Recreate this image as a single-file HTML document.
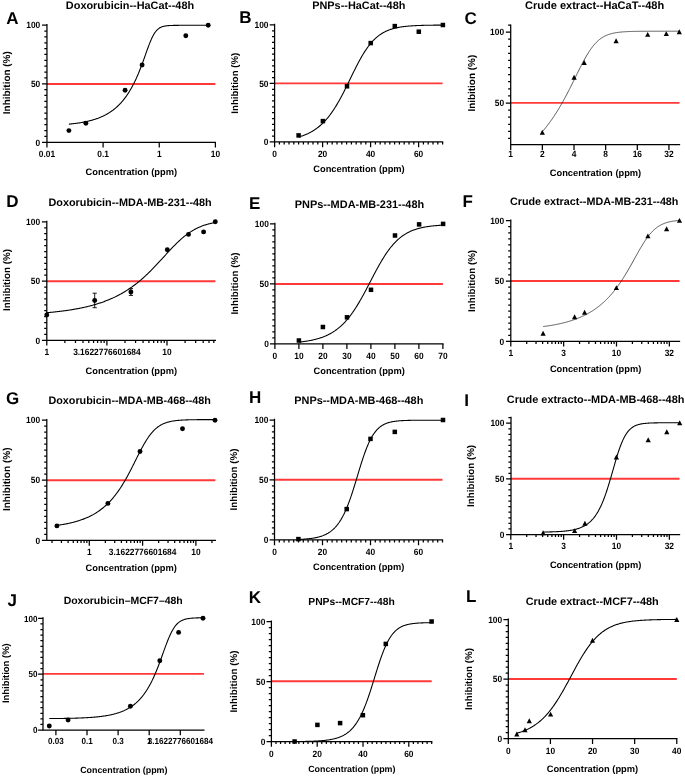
<!DOCTYPE html>
<html><head><meta charset="utf-8"><style>
html,body{margin:0;padding:0;background:#fff;overflow:hidden;}
svg{display:block;will-change:transform;}
text{font-family:"Liberation Sans", sans-serif;font-weight:bold;fill:#000;text-rendering:geometricPrecision;}
.tk{font-size:8.4px;}
.ti{font-size:10.8px;}
.le{font-size:17px;}
.xl{font-size:9.3px;}
</style></head><body>
<svg width="685" height="776" viewBox="0 0 685 776">
<rect width="685" height="776" fill="#fff"/>
<g><line x1="46.95" y1="84.00" x2="215.4" y2="84.00" stroke="#ff3838" stroke-width="1.9"/><path d="M68.90,124.14 L69.48,124.09 L70.07,124.03 L70.65,123.97 L71.23,123.91 L71.81,123.85 L72.40,123.78 L72.98,123.72 L73.56,123.65 L74.15,123.58 L74.73,123.51 L75.31,123.43 L75.89,123.36 L76.48,123.28 L77.06,123.20 L77.64,123.11 L78.23,123.03 L78.81,122.94 L79.39,122.85 L79.97,122.76 L80.56,122.67 L81.14,122.57 L81.72,122.47 L82.31,122.37 L82.89,122.26 L83.47,122.15 L84.05,122.04 L84.64,121.93 L85.22,121.81 L85.80,121.69 L86.39,121.56 L86.97,121.44 L87.55,121.30 L88.13,121.17 L88.72,121.03 L89.30,120.89 L89.88,120.74 L90.47,120.59 L91.05,120.44 L91.63,120.28 L92.21,120.11 L92.80,119.94 L93.38,119.77 L93.96,119.59 L94.55,119.41 L95.13,119.22 L95.71,119.03 L96.29,118.83 L96.88,118.63 L97.46,118.42 L98.04,118.21 L98.63,117.98 L99.21,117.76 L99.79,117.52 L100.37,117.28 L100.96,117.04 L101.54,116.78 L102.12,116.52 L102.71,116.26 L103.29,115.98 L103.87,115.70 L104.45,115.41 L105.04,115.11 L105.62,114.80 L106.20,114.49 L106.78,114.16 L107.37,113.83 L107.95,113.49 L108.53,113.14 L109.12,112.77 L109.70,112.40 L110.28,112.02 L110.86,111.63 L111.45,111.22 L112.03,110.81 L112.61,110.38 L113.20,109.95 L113.78,109.50 L114.36,109.03 L114.94,108.56 L115.53,108.07 L116.11,107.57 L116.69,107.05 L117.28,106.52 L117.86,105.98 L118.44,105.42 L119.02,104.84 L119.61,104.25 L120.19,103.64 L120.77,103.02 L121.36,102.37 L121.94,101.72 L122.52,101.04 L123.10,100.34 L123.69,99.62 L124.27,98.89 L124.85,98.13 L125.44,97.36 L126.02,96.56 L126.60,95.74 L127.18,94.90 L127.77,94.03 L128.35,93.14 L128.93,92.23 L129.52,91.29 L130.10,90.32 L130.68,89.33 L131.26,88.32 L131.85,87.27 L132.43,86.20 L133.01,85.10 L133.60,83.97 L134.18,82.82 L134.76,81.63 L135.34,80.41 L135.93,79.16 L136.51,77.88 L137.09,76.57 L137.68,75.23 L138.26,73.86 L138.84,72.45 L139.42,71.02 L140.01,69.56 L140.59,68.06 L141.17,66.54 L141.76,65.00 L142.34,63.43 L142.92,61.84 L143.50,60.23 L144.09,58.61 L144.67,56.97 L145.25,55.33 L145.84,53.68 L146.42,52.04 L147.00,50.41 L147.58,48.80 L148.17,47.21 L148.75,45.65 L149.33,44.13 L149.92,42.66 L150.50,41.23 L151.08,39.87 L151.66,38.57 L152.25,37.34 L152.83,36.18 L153.41,35.09 L154.00,34.08 L154.58,33.15 L155.16,32.30 L155.74,31.52 L156.33,30.81 L156.91,30.17 L157.49,29.59 L158.08,29.07 L158.66,28.61 L159.24,28.20 L159.82,27.84 L160.41,27.52 L160.99,27.24 L161.57,26.99 L162.16,26.77 L162.74,26.58 L163.32,26.41 L163.90,26.27 L164.49,26.14 L165.07,26.03 L165.65,25.94 L166.24,25.85 L166.82,25.78 L167.40,25.72 L167.98,25.66 L168.57,25.62 L169.15,25.57 L169.73,25.54 L170.32,25.51 L170.90,25.48 L171.48,25.46 L172.06,25.44 L172.65,25.42 L173.23,25.41 L173.81,25.39 L174.39,25.38 L174.98,25.37 L175.56,25.36 L176.14,25.36 L176.73,25.35 L177.31,25.35 L177.89,25.34 L178.47,25.34 L179.06,25.33 L179.64,25.33 L180.22,25.33 L180.81,25.33 L181.39,25.32 L181.97,25.32 L182.55,25.32 L183.14,25.32 L183.72,25.32 L184.30,25.32 L184.89,25.32 L185.47,25.32 L186.05,25.32 L186.63,25.31 L187.22,25.31 L187.80,25.31 L188.38,25.31 L188.97,25.31 L189.55,25.31 L190.13,25.31 L190.71,25.31 L191.30,25.31 L191.88,25.31 L192.46,25.31 L193.05,25.31 L193.63,25.31 L194.21,25.31 L194.79,25.31 L195.38,25.31 L195.96,25.31 L196.54,25.31 L197.13,25.31 L197.71,25.31 L198.29,25.31 L198.87,25.31 L199.46,25.31 L200.04,25.31 L200.62,25.31 L201.21,25.31 L201.79,25.31 L202.37,25.31 L202.95,25.31 L203.54,25.31 L204.12,25.31 L204.70,25.31 L205.29,25.31 L205.87,25.31 L206.45,25.31 L207.03,25.31 L207.62,25.31 L208.20,25.31" fill="none" stroke="#000" stroke-width="1.08"/><path d="M46.95,24.6 L46.95,142.3 L215.4,142.3" fill="none" stroke="#000" stroke-width="1.25" stroke-linejoin="miter" stroke-linecap="square"/><path d="M46.95,136.45 L44.35,136.45 M46.95,130.59 L44.35,130.59 M46.95,124.74 L44.35,124.74 M46.95,118.88 L44.35,118.88 M46.95,113.03 L44.35,113.03 M46.95,107.17 L44.35,107.17 M46.95,101.32 L44.35,101.32 M46.95,95.46 L44.35,95.46 M46.95,89.61 L44.35,89.61 M46.95,77.89 L44.35,77.89 M46.95,72.04 L44.35,72.04 M46.95,66.19 L44.35,66.19 M46.95,60.33 L44.35,60.33 M46.95,54.48 L44.35,54.48 M46.95,48.62 L44.35,48.62 M46.95,42.77 L44.35,42.77 M46.95,36.91 L44.35,36.91 M46.95,31.06 L44.35,31.06 M46.95,142.30 L42.050000000000004,142.30 M46.95,83.75 L42.050000000000004,83.75 M46.95,25.20 L42.050000000000004,25.20 M46.95,142.3 L46.95,147.60000000000002 M103.10,142.3 L103.10,147.60000000000002 M159.25,142.3 L159.25,147.60000000000002 M215.40,142.3 L215.40,147.60000000000002" stroke="#000" stroke-width="1.25" fill="none"/><text transform="translate(40.25,145.58) scale(1,1.09)" text-anchor="end" class="tk" style="font-size:8.4px">0</text><text transform="translate(40.25,87.03) scale(1,1.09)" text-anchor="end" class="tk" style="font-size:8.4px">50</text><text transform="translate(40.25,28.48) scale(1,1.09)" text-anchor="end" class="tk" style="font-size:8.4px">100</text><text transform="translate(46.95,157.4) scale(1,1.09)" text-anchor="middle" class="tk" style="font-size:8.4px">0.01</text><text transform="translate(103.10,157.4) scale(1,1.09)" text-anchor="middle" class="tk" style="font-size:8.4px">0.1</text><text transform="translate(159.25,157.4) scale(1,1.09)" text-anchor="middle" class="tk" style="font-size:8.4px">1</text><text transform="translate(215.40,157.4) scale(1,1.09)" text-anchor="middle" class="tk" style="font-size:8.4px">10</text><circle cx="68.9" cy="130.6" r="2.45"/><circle cx="85.9" cy="123.3" r="2.45"/><circle cx="125.1" cy="90.3" r="2.45"/><circle cx="142.1" cy="65" r="2.45"/><circle cx="185.8" cy="35.8" r="2.45"/><circle cx="208.2" cy="25.3" r="2.45"/><text x="130.0" y="9.2" text-anchor="middle" class="ti" style="font-size:10.9px">Doxorubicin--HaCat--48h</text><text x="6.2" y="23.5" class="le">A</text><text x="131.3" y="175.0" text-anchor="middle" class="xl" style="font-size:9.3px">Concentration (ppm)</text><text transform="translate(9.9,82.7) rotate(-90)" text-anchor="middle" class="xl" style="font-size:9.95px">Inhibition (%)</text></g><g><line x1="274.6" y1="83.40" x2="442.6" y2="83.40" stroke="#ff3838" stroke-width="1.9"/><path d="M298.60,137.04 L299.20,136.86 L299.81,136.68 L300.41,136.49 L301.01,136.30 L301.61,136.10 L302.22,135.89 L302.82,135.68 L303.42,135.46 L304.02,135.23 L304.63,134.99 L305.23,134.75 L305.83,134.50 L306.43,134.24 L307.04,133.97 L307.64,133.70 L308.24,133.41 L308.84,133.12 L309.45,132.82 L310.05,132.51 L310.65,132.19 L311.25,131.85 L311.86,131.51 L312.46,131.16 L313.06,130.80 L313.66,130.42 L314.27,130.04 L314.87,129.64 L315.47,129.23 L316.07,128.81 L316.68,128.37 L317.28,127.92 L317.88,127.46 L318.48,126.99 L319.09,126.50 L319.69,126.00 L320.29,125.48 L320.89,124.95 L321.50,124.40 L322.10,123.84 L322.70,123.26 L323.30,122.66 L323.91,122.05 L324.51,121.43 L325.11,120.78 L325.71,120.12 L326.32,119.44 L326.92,118.75 L327.52,118.03 L328.12,117.30 L328.73,116.55 L329.33,115.78 L329.93,115.00 L330.53,114.19 L331.14,113.37 L331.74,112.53 L332.34,111.67 L332.94,110.79 L333.55,109.89 L334.15,108.97 L334.75,108.03 L335.35,107.08 L335.96,106.11 L336.56,105.12 L337.16,104.11 L337.76,103.08 L338.37,102.04 L338.97,100.98 L339.57,99.90 L340.17,98.81 L340.78,97.70 L341.38,96.58 L341.98,95.44 L342.58,94.30 L343.19,93.13 L343.79,91.96 L344.39,90.77 L344.99,89.58 L345.60,88.37 L346.20,87.16 L346.80,85.94 L347.40,84.71 L348.01,83.48 L348.61,82.25 L349.21,81.01 L349.81,79.77 L350.42,78.53 L351.02,77.29 L351.62,76.05 L352.22,74.81 L352.83,73.58 L353.43,72.35 L354.03,71.13 L354.63,69.92 L355.24,68.71 L355.84,67.52 L356.44,66.33 L357.04,65.16 L357.65,64.00 L358.25,62.86 L358.85,61.73 L359.45,60.61 L360.06,59.51 L360.66,58.43 L361.26,57.37 L361.86,56.33 L362.47,55.30 L363.07,54.29 L363.67,53.31 L364.27,52.35 L364.88,51.40 L365.48,50.48 L366.08,49.58 L366.68,48.70 L367.29,47.85 L367.89,47.01 L368.49,46.20 L369.09,45.41 L369.70,44.64 L370.30,43.90 L370.90,43.17 L371.50,42.47 L372.11,41.79 L372.71,41.13 L373.31,40.49 L373.91,39.88 L374.52,39.28 L375.12,38.70 L375.72,38.15 L376.32,37.61 L376.93,37.09 L377.53,36.59 L378.13,36.11 L378.73,35.64 L379.34,35.19 L379.94,34.76 L380.54,34.35 L381.14,33.95 L381.75,33.57 L382.35,33.20 L382.95,32.84 L383.55,32.50 L384.16,32.18 L384.76,31.87 L385.36,31.56 L385.96,31.28 L386.57,31.00 L387.17,30.74 L387.77,30.48 L388.37,30.24 L388.98,30.01 L389.58,29.78 L390.18,29.57 L390.78,29.36 L391.39,29.17 L391.99,28.98 L392.59,28.80 L393.19,28.63 L393.80,28.47 L394.40,28.31 L395.00,28.16 L395.60,28.02 L396.21,27.88 L396.81,27.75 L397.41,27.62 L398.01,27.50 L398.62,27.39 L399.22,27.28 L399.82,27.17 L400.42,27.08 L401.03,26.98 L401.63,26.89 L402.23,26.80 L402.83,26.72 L403.44,26.64 L404.04,26.57 L404.64,26.49 L405.24,26.43 L405.85,26.36 L406.45,26.30 L407.05,26.24 L407.65,26.18 L408.26,26.13 L408.86,26.07 L409.46,26.02 L410.06,25.98 L410.67,25.93 L411.27,25.89 L411.87,25.85 L412.47,25.81 L413.08,25.77 L413.68,25.74 L414.28,25.70 L414.88,25.67 L415.49,25.64 L416.09,25.61 L416.69,25.58 L417.29,25.56 L417.90,25.53 L418.50,25.51 L419.10,25.48 L419.70,25.46 L420.31,25.44 L420.91,25.42 L421.51,25.40 L422.11,25.38 L422.72,25.37 L423.32,25.35 L423.92,25.33 L424.52,25.32 L425.13,25.30 L425.73,25.29 L426.33,25.28 L426.93,25.26 L427.54,25.25 L428.14,25.24 L428.74,25.23 L429.34,25.22 L429.95,25.21 L430.55,25.20 L431.15,25.19 L431.75,25.18 L432.36,25.18 L432.96,25.17 L433.56,25.16 L434.16,25.15 L434.77,25.15 L435.37,25.14 L435.97,25.14 L436.57,25.13 L437.18,25.12 L437.78,25.12 L438.38,25.11 L438.98,25.11 L439.59,25.10 L440.19,25.10 L440.79,25.10 L441.39,25.09 L442.00,25.09 L442.60,25.08" fill="none" stroke="#000" stroke-width="1.08"/><path d="M274.6,24.4 L274.6,141.9 L442.6,141.9" fill="none" stroke="#000" stroke-width="1.25" stroke-linejoin="miter" stroke-linecap="square"/><path d="M274.6,136.05 L272.0,136.05 M274.6,130.20 L272.0,130.20 M274.6,124.35 L272.0,124.35 M274.6,118.50 L272.0,118.50 M274.6,112.65 L272.0,112.65 M274.6,106.80 L272.0,106.80 M274.6,100.95 L272.0,100.95 M274.6,95.10 L272.0,95.10 M274.6,89.25 L272.0,89.25 M274.6,77.55 L272.0,77.55 M274.6,71.70 L272.0,71.70 M274.6,65.85 L272.0,65.85 M274.6,60.00 L272.0,60.00 M274.6,54.15 L272.0,54.15 M274.6,48.30 L272.0,48.30 M274.6,42.45 L272.0,42.45 M274.6,36.60 L272.0,36.60 M274.6,30.75 L272.0,30.75 M274.6,141.90 L269.70000000000005,141.90 M274.6,83.40 L269.70000000000005,83.40 M274.6,24.90 L269.70000000000005,24.90 M279.40,141.9 L279.40,144.5 M284.20,141.9 L284.20,144.5 M289.00,141.9 L289.00,144.5 M293.80,141.9 L293.80,144.5 M298.60,141.9 L298.60,144.5 M303.40,141.9 L303.40,144.5 M308.20,141.9 L308.20,144.5 M313.00,141.9 L313.00,144.5 M317.80,141.9 L317.80,144.5 M327.40,141.9 L327.40,144.5 M332.20,141.9 L332.20,144.5 M337.00,141.9 L337.00,144.5 M341.80,141.9 L341.80,144.5 M346.60,141.9 L346.60,144.5 M351.40,141.9 L351.40,144.5 M356.20,141.9 L356.20,144.5 M361.00,141.9 L361.00,144.5 M365.80,141.9 L365.80,144.5 M375.40,141.9 L375.40,144.5 M380.20,141.9 L380.20,144.5 M385.00,141.9 L385.00,144.5 M389.80,141.9 L389.80,144.5 M394.60,141.9 L394.60,144.5 M399.40,141.9 L399.40,144.5 M404.20,141.9 L404.20,144.5 M409.00,141.9 L409.00,144.5 M413.80,141.9 L413.80,144.5 M423.40,141.9 L423.40,144.5 M428.20,141.9 L428.20,144.5 M433.00,141.9 L433.00,144.5 M437.80,141.9 L437.80,144.5 M442.60,141.9 L442.60,144.5 M274.60,141.9 L274.60,147.20000000000002 M322.60,141.9 L322.60,147.20000000000002 M370.60,141.9 L370.60,147.20000000000002 M418.60,141.9 L418.60,147.20000000000002" stroke="#000" stroke-width="1.25" fill="none"/><text transform="translate(268.50,145.18) scale(1,1.09)" text-anchor="end" class="tk" style="font-size:8.4px">0</text><text transform="translate(268.50,86.68) scale(1,1.09)" text-anchor="end" class="tk" style="font-size:8.4px">50</text><text transform="translate(268.50,28.18) scale(1,1.09)" text-anchor="end" class="tk" style="font-size:8.4px">100</text><text transform="translate(274.60,156.7) scale(1,1.09)" text-anchor="middle" class="tk" style="font-size:8.4px">0</text><text transform="translate(322.60,156.7) scale(1,1.09)" text-anchor="middle" class="tk" style="font-size:8.4px">20</text><text transform="translate(370.60,156.7) scale(1,1.09)" text-anchor="middle" class="tk" style="font-size:8.4px">40</text><text transform="translate(418.60,156.7) scale(1,1.09)" text-anchor="middle" class="tk" style="font-size:8.4px">60</text><rect x="296.35" y="133.15" width="4.5" height="4.5"/><rect x="320.65" y="118.85" width="4.5" height="4.5"/><rect x="344.75" y="84.05" width="4.5" height="4.5"/><rect x="368.45" y="40.85" width="4.5" height="4.5"/><rect x="392.55" y="23.85" width="4.5" height="4.5"/><rect x="416.55" y="29.45" width="4.5" height="4.5"/><rect x="440.65" y="22.75" width="4.5" height="4.5"/><text x="358.8" y="9.3" text-anchor="middle" class="ti" style="font-size:10.9px">PNPs--HaCat--48h</text><text x="239.3" y="23.4" class="le">B</text><text x="359.0" y="171.6" text-anchor="middle" class="xl" style="font-size:9.3px">Concentration (ppm)</text><text transform="translate(237.7,83.2) rotate(-90)" text-anchor="middle" class="xl" style="font-size:9.65px">Inhibition (%)</text></g><g><line x1="510.7" y1="102.90" x2="679.5" y2="102.90" stroke="#ff3838" stroke-width="1.9"/><path d="M542.30,131.73 L542.87,131.06 L543.45,130.38 L544.02,129.70 L544.59,129.01 L545.17,128.30 L545.74,127.59 L546.31,126.87 L546.89,126.14 L547.46,125.40 L548.03,124.65 L548.61,123.89 L549.18,123.12 L549.75,122.34 L550.33,121.55 L550.90,120.75 L551.47,119.93 L552.04,119.11 L552.62,118.28 L553.19,117.44 L553.76,116.59 L554.34,115.72 L554.91,114.85 L555.48,113.97 L556.06,113.07 L556.63,112.17 L557.20,111.25 L557.78,110.32 L558.35,109.38 L558.92,108.43 L559.50,107.48 L560.07,106.51 L560.64,105.52 L561.22,104.53 L561.79,103.53 L562.36,102.52 L562.94,101.50 L563.51,100.46 L564.08,99.42 L564.66,98.37 L565.23,97.31 L565.80,96.24 L566.38,95.16 L566.95,94.07 L567.52,92.97 L568.09,91.86 L568.67,90.75 L569.24,89.63 L569.81,88.50 L570.39,87.36 L570.96,86.22 L571.53,85.08 L572.11,83.93 L572.68,82.77 L573.25,81.61 L573.83,80.45 L574.40,79.29 L574.97,78.12 L575.55,76.96 L576.12,75.79 L576.69,74.63 L577.27,73.46 L577.84,72.30 L578.41,71.15 L578.99,70.00 L579.56,68.85 L580.13,67.72 L580.71,66.59 L581.28,65.47 L581.85,64.36 L582.43,63.26 L583.00,62.17 L583.57,61.10 L584.15,60.04 L584.72,59.00 L585.29,57.97 L585.86,56.96 L586.44,55.97 L587.01,55.00 L587.58,54.05 L588.16,53.12 L588.73,52.21 L589.30,51.32 L589.88,50.46 L590.45,49.62 L591.02,48.80 L591.60,48.01 L592.17,47.24 L592.74,46.49 L593.32,45.77 L593.89,45.08 L594.46,44.40 L595.04,43.76 L595.61,43.13 L596.18,42.53 L596.76,41.96 L597.33,41.41 L597.90,40.88 L598.48,40.37 L599.05,39.89 L599.62,39.42 L600.20,38.98 L600.77,38.56 L601.34,38.15 L601.92,37.77 L602.49,37.41 L603.06,37.06 L603.63,36.73 L604.21,36.42 L604.78,36.12 L605.35,35.84 L605.93,35.57 L606.50,35.32 L607.07,35.08 L607.65,34.86 L608.22,34.64 L608.79,34.44 L609.37,34.25 L609.94,34.07 L610.51,33.90 L611.09,33.74 L611.66,33.59 L612.23,33.44 L612.81,33.31 L613.38,33.18 L613.95,33.06 L614.53,32.95 L615.10,32.84 L615.67,32.74 L616.25,32.65 L616.82,32.56 L617.39,32.48 L617.97,32.40 L618.54,32.33 L619.11,32.26 L619.68,32.19 L620.26,32.13 L620.83,32.08 L621.40,32.02 L621.98,31.97 L622.55,31.92 L623.12,31.88 L623.70,31.84 L624.27,31.80 L624.84,31.76 L625.42,31.73 L625.99,31.69 L626.56,31.66 L627.14,31.64 L627.71,31.61 L628.28,31.58 L628.86,31.56 L629.43,31.54 L630.00,31.52 L630.58,31.50 L631.15,31.48 L631.72,31.46 L632.30,31.45 L632.87,31.43 L633.44,31.42 L634.02,31.40 L634.59,31.39 L635.16,31.38 L635.74,31.37 L636.31,31.36 L636.88,31.35 L637.45,31.34 L638.03,31.33 L638.60,31.32 L639.17,31.32 L639.75,31.31 L640.32,31.30 L640.89,31.30 L641.47,31.29 L642.04,31.28 L642.61,31.28 L643.19,31.27 L643.76,31.27 L644.33,31.27 L644.91,31.26 L645.48,31.26 L646.05,31.25 L646.63,31.25 L647.20,31.25 L647.77,31.25 L648.35,31.24 L648.92,31.24 L649.49,31.24 L650.07,31.24 L650.64,31.23 L651.21,31.23 L651.79,31.23 L652.36,31.23 L652.93,31.23 L653.51,31.23 L654.08,31.22 L654.65,31.22 L655.22,31.22 L655.80,31.22 L656.37,31.22 L656.94,31.22 L657.52,31.22 L658.09,31.22 L658.66,31.22 L659.24,31.21 L659.81,31.21 L660.38,31.21 L660.96,31.21 L661.53,31.21 L662.10,31.21 L662.68,31.21 L663.25,31.21 L663.82,31.21 L664.40,31.21 L664.97,31.21 L665.54,31.21 L666.12,31.21 L666.69,31.21 L667.26,31.21 L667.84,31.21 L668.41,31.21 L668.98,31.21 L669.56,31.21 L670.13,31.21 L670.70,31.21 L671.27,31.21 L671.85,31.21 L672.42,31.21 L672.99,31.21 L673.57,31.21 L674.14,31.21 L674.71,31.20 L675.29,31.20 L675.86,31.20 L676.43,31.20 L677.01,31.20 L677.58,31.20 L678.15,31.20 L678.73,31.20 L679.30,31.20" fill="none" stroke="#222" stroke-width="0.75"/><path d="M510.7,25.064999999999998 L510.7,144.7 L679.5,144.7" fill="none" stroke="#000" stroke-width="1.25" stroke-linejoin="miter" stroke-linecap="square"/><path d="M510.7,138.43 L508.09999999999997,138.43 M510.7,131.34 L508.09999999999997,131.34 M510.7,124.25 L508.09999999999997,124.25 M510.7,117.17 L508.09999999999997,117.17 M510.7,110.09 L508.09999999999997,110.09 M510.7,95.92 L508.09999999999997,95.92 M510.7,88.83 L508.09999999999997,88.83 M510.7,81.74 L508.09999999999997,81.74 M510.7,74.66 L508.09999999999997,74.66 M510.7,67.57 L508.09999999999997,67.57 M510.7,60.49 L508.09999999999997,60.49 M510.7,53.41 L508.09999999999997,53.41 M510.7,46.32 L508.09999999999997,46.32 M510.7,39.24 L508.09999999999997,39.24 M510.7,25.07 L508.09999999999997,25.07 M510.7,103.00 L505.8,103.00 M510.7,32.15 L505.8,32.15 M510.70,144.7 L510.70,150.0 M542.35,144.7 L542.35,150.0 M574.00,144.7 L574.00,150.0 M605.65,144.7 L605.65,150.0 M637.30,144.7 L637.30,150.0 M668.95,144.7 L668.95,150.0" stroke="#000" stroke-width="1.25" fill="none"/><text transform="translate(504.10,106.28) scale(1,1.09)" text-anchor="end" class="tk" style="font-size:8.4px">50</text><text transform="translate(504.10,35.43) scale(1,1.09)" text-anchor="end" class="tk" style="font-size:8.4px">100</text><text transform="translate(510.70,157.1) scale(1,1.09)" text-anchor="middle" class="tk" style="font-size:8.4px">1</text><text transform="translate(542.35,157.1) scale(1,1.09)" text-anchor="middle" class="tk" style="font-size:8.4px">2</text><text transform="translate(574.00,157.1) scale(1,1.09)" text-anchor="middle" class="tk" style="font-size:8.4px">4</text><text transform="translate(605.65,157.1) scale(1,1.09)" text-anchor="middle" class="tk" style="font-size:8.4px">8</text><text transform="translate(637.30,157.1) scale(1,1.09)" text-anchor="middle" class="tk" style="font-size:8.4px">16</text><text transform="translate(668.95,157.1) scale(1,1.09)" text-anchor="middle" class="tk" style="font-size:8.4px">32</text><path d="M542.3,129.75 L544.9,134.65 L539.6999999999999,134.65 Z"/><path d="M574.1,74.75 L576.7,79.65 L571.5,79.65 Z"/><path d="M584.2,60.05 L586.8000000000001,64.95 L581.6,64.95 Z"/><path d="M616.1,38.35 L618.7,43.25 L613.5,43.25 Z"/><path d="M647.7,31.950000000000003 L650.3000000000001,36.85 L645.1,36.85 Z"/><path d="M666.3,31.15 L668.9,36.05 L663.6999999999999,36.05 Z"/><path d="M679.3,29.35 L681.9,34.25 L676.6999999999999,34.25 Z"/><text x="594.6" y="9.3" text-anchor="middle" class="ti" style="font-size:11.05px">Crude extract--HaCaT--48h</text><text x="464.6" y="23.6" class="le">C</text><text x="595.5" y="175.8" text-anchor="middle" class="xl" style="font-size:9.3px">Concentration (ppm)</text><text transform="translate(474.5,83.2) rotate(-90)" text-anchor="middle" class="xl" style="font-size:9.95px">Inibition (%)</text></g><g><line x1="46.8" y1="281.20" x2="215.4" y2="281.20" stroke="#ff3838" stroke-width="1.9"/><path d="M46.80,312.68 L47.51,312.62 L48.21,312.56 L48.92,312.50 L49.62,312.43 L50.33,312.37 L51.03,312.30 L51.74,312.23 L52.44,312.17 L53.15,312.10 L53.85,312.02 L54.56,311.95 L55.26,311.88 L55.97,311.80 L56.67,311.72 L57.38,311.65 L58.08,311.57 L58.79,311.49 L59.49,311.40 L60.20,311.32 L60.90,311.23 L61.61,311.15 L62.31,311.06 L63.02,310.97 L63.72,310.87 L64.43,310.78 L65.13,310.68 L65.84,310.59 L66.54,310.49 L67.25,310.39 L67.95,310.28 L68.66,310.18 L69.36,310.07 L70.07,309.96 L70.77,309.85 L71.48,309.74 L72.18,309.63 L72.89,309.51 L73.59,309.39 L74.30,309.27 L75.00,309.15 L75.71,309.02 L76.41,308.90 L77.12,308.77 L77.82,308.63 L78.53,308.50 L79.23,308.36 L79.94,308.22 L80.64,308.08 L81.35,307.94 L82.05,307.79 L82.76,307.64 L83.46,307.49 L84.17,307.33 L84.87,307.17 L85.58,307.01 L86.28,306.85 L86.99,306.68 L87.69,306.51 L88.40,306.34 L89.10,306.16 L89.81,305.98 L90.51,305.80 L91.22,305.62 L91.92,305.43 L92.63,305.24 L93.33,305.04 L94.04,304.84 L94.74,304.64 L95.45,304.43 L96.15,304.22 L96.86,304.01 L97.56,303.79 L98.27,303.57 L98.97,303.34 L99.68,303.11 L100.38,302.87 L101.09,302.64 L101.79,302.39 L102.50,302.15 L103.20,301.90 L103.91,301.64 L104.61,301.38 L105.32,301.11 L106.02,300.85 L106.73,300.57 L107.43,300.29 L108.14,300.01 L108.84,299.72 L109.55,299.42 L110.25,299.12 L110.96,298.82 L111.66,298.51 L112.37,298.19 L113.07,297.87 L113.78,297.55 L114.48,297.21 L115.19,296.88 L115.89,296.53 L116.60,296.18 L117.30,295.83 L118.01,295.47 L118.71,295.10 L119.42,294.72 L120.12,294.34 L120.83,293.96 L121.53,293.56 L122.24,293.16 L122.94,292.75 L123.65,292.34 L124.35,291.92 L125.06,291.49 L125.76,291.06 L126.47,290.62 L127.17,290.17 L127.88,289.71 L128.58,289.25 L129.29,288.78 L129.99,288.30 L130.70,287.81 L131.40,287.32 L132.11,286.82 L132.81,286.31 L133.52,285.79 L134.22,285.27 L134.93,284.74 L135.63,284.20 L136.34,283.65 L137.04,283.09 L137.75,282.53 L138.45,281.96 L139.16,281.38 L139.86,280.79 L140.57,280.20 L141.27,279.59 L141.98,278.98 L142.68,278.36 L143.39,277.74 L144.09,277.10 L144.80,276.46 L145.50,275.81 L146.21,275.15 L146.91,274.49 L147.62,273.81 L148.32,273.13 L149.03,272.45 L149.73,271.75 L150.44,271.05 L151.14,270.35 L151.85,269.63 L152.55,268.91 L153.26,268.19 L153.96,267.46 L154.67,266.72 L155.37,265.98 L156.08,265.24 L156.78,264.49 L157.49,263.73 L158.19,262.97 L158.90,262.21 L159.60,261.45 L160.31,260.68 L161.01,259.91 L161.72,259.14 L162.42,258.37 L163.13,257.60 L163.83,256.82 L164.54,256.05 L165.24,255.28 L165.95,254.50 L166.65,253.73 L167.36,252.97 L168.06,252.20 L168.77,251.44 L169.47,250.68 L170.18,249.92 L170.88,249.17 L171.59,248.43 L172.29,247.69 L173.00,246.96 L173.70,246.23 L174.41,245.51 L175.11,244.80 L175.82,244.10 L176.52,243.41 L177.23,242.72 L177.93,242.05 L178.64,241.38 L179.34,240.73 L180.05,240.08 L180.75,239.45 L181.46,238.82 L182.16,238.21 L182.87,237.61 L183.57,237.03 L184.28,236.45 L184.98,235.89 L185.69,235.34 L186.39,234.80 L187.10,234.27 L187.80,233.76 L188.51,233.26 L189.21,232.77 L189.92,232.30 L190.62,231.84 L191.33,231.39 L192.03,230.95 L192.74,230.53 L193.44,230.12 L194.15,229.72 L194.85,229.33 L195.56,228.96 L196.26,228.60 L196.97,228.25 L197.67,227.91 L198.38,227.58 L199.08,227.26 L199.79,226.96 L200.49,226.66 L201.20,226.38 L201.90,226.10 L202.61,225.84 L203.31,225.58 L204.02,225.34 L204.72,225.10 L205.43,224.88 L206.13,224.66 L206.84,224.45 L207.54,224.24 L208.25,224.05 L208.95,223.86 L209.66,223.68 L210.36,223.51 L211.07,223.35 L211.77,223.19 L212.48,223.04 L213.18,222.89 L213.89,222.75 L214.59,222.62 L215.30,222.49" fill="none" stroke="#000" stroke-width="1.08"/><path d="M94.7,293.2 L94.7,307.7 M92.60000000000001,293.2 L96.8,293.2 M92.60000000000001,307.7 L96.8,307.7" stroke="#000" stroke-width="0.9" fill="none"/><path d="M130.9,288.6 L130.9,295.4 M128.8,288.6 L133.0,288.6 M128.8,295.4 L133.0,295.4" stroke="#000" stroke-width="0.9" fill="none"/><path d="M46.8,221.4 L46.8,340.3 L215.4,340.3" fill="none" stroke="#000" stroke-width="1.25" stroke-linejoin="miter" stroke-linecap="square"/><path d="M46.8,334.38 L44.199999999999996,334.38 M46.8,328.46 L44.199999999999996,328.46 M46.8,322.54 L44.199999999999996,322.54 M46.8,316.62 L44.199999999999996,316.62 M46.8,310.70 L44.199999999999996,310.70 M46.8,304.78 L44.199999999999996,304.78 M46.8,298.86 L44.199999999999996,298.86 M46.8,292.94 L44.199999999999996,292.94 M46.8,287.02 L44.199999999999996,287.02 M46.8,275.18 L44.199999999999996,275.18 M46.8,269.26 L44.199999999999996,269.26 M46.8,263.34 L44.199999999999996,263.34 M46.8,257.42 L44.199999999999996,257.42 M46.8,251.50 L44.199999999999996,251.50 M46.8,245.58 L44.199999999999996,245.58 M46.8,239.66 L44.199999999999996,239.66 M46.8,233.74 L44.199999999999996,233.74 M46.8,227.82 L44.199999999999996,227.82 M46.8,340.30 L41.9,340.30 M46.8,281.10 L41.9,281.10 M46.8,221.90 L41.9,221.90 M64.89,340.3 L64.89,342.90000000000003 M75.47,340.3 L75.47,342.90000000000003 M82.98,340.3 L82.98,342.90000000000003 M88.81,340.3 L88.81,342.90000000000003 M93.57,340.3 L93.57,342.90000000000003 M97.59,340.3 L97.59,342.90000000000003 M101.08,340.3 L101.08,342.90000000000003 M104.15,340.3 L104.15,342.90000000000003 M124.99,340.3 L124.99,342.90000000000003 M135.57,340.3 L135.57,342.90000000000003 M143.08,340.3 L143.08,342.90000000000003 M148.91,340.3 L148.91,342.90000000000003 M153.67,340.3 L153.67,342.90000000000003 M157.69,340.3 L157.69,342.90000000000003 M161.18,340.3 L161.18,342.90000000000003 M164.25,340.3 L164.25,342.90000000000003 M185.09,340.3 L185.09,342.90000000000003 M195.67,340.3 L195.67,342.90000000000003 M203.18,340.3 L203.18,342.90000000000003 M209.01,340.3 L209.01,342.90000000000003 M213.77,340.3 L213.77,342.90000000000003 M46.80,340.3 L46.80,345.6 M106.90,340.3 L106.90,345.6 M167.00,340.3 L167.00,345.6" stroke="#000" stroke-width="1.25" fill="none"/><text transform="translate(40.10,343.58) scale(1,1.09)" text-anchor="end" class="tk" style="font-size:8.4px">0</text><text transform="translate(40.10,284.38) scale(1,1.09)" text-anchor="end" class="tk" style="font-size:8.4px">50</text><text transform="translate(40.10,225.18) scale(1,1.09)" text-anchor="end" class="tk" style="font-size:8.4px">100</text><text transform="translate(46.80,355.20000000000005) scale(1,1.09)" text-anchor="middle" class="tk" style="font-size:8.4px">1</text><text transform="translate(106.90,355.20000000000005) scale(1,1.09)" text-anchor="middle" class="tk" style="font-size:8.4px">3.1622776601684</text><text transform="translate(167.00,355.20000000000005) scale(1,1.09)" text-anchor="middle" class="tk" style="font-size:8.4px">10</text><circle cx="46.8" cy="314.9" r="2.45"/><circle cx="94.7" cy="300.5" r="2.45"/><circle cx="130.9" cy="292" r="2.45"/><circle cx="167.3" cy="249.7" r="2.45"/><circle cx="188.5" cy="234.4" r="2.45"/><circle cx="203.6" cy="231.9" r="2.45"/><circle cx="215.3" cy="221.7" r="2.45"/><text x="130.1" y="206.3" text-anchor="middle" class="ti" style="font-size:10.85px">Doxorubicin--MDA-MB-231--48h</text><text x="6.3" y="206.6" class="le">D</text><text x="131.3" y="373.8" text-anchor="middle" class="xl" style="font-size:9.3px">Concentration (ppm)</text><text transform="translate(9.7,280.0) rotate(-90)" text-anchor="middle" class="xl" style="font-size:9.8px">Inhibition (%)</text></g><g><line x1="274.9" y1="284.00" x2="442.9" y2="284.00" stroke="#ff3838" stroke-width="1.9"/><path d="M298.90,342.11 L299.50,342.05 L300.11,341.99 L300.71,341.92 L301.31,341.85 L301.92,341.78 L302.52,341.70 L303.12,341.63 L303.73,341.55 L304.33,341.46 L304.93,341.38 L305.54,341.29 L306.14,341.20 L306.74,341.11 L307.35,341.01 L307.95,340.91 L308.55,340.81 L309.16,340.70 L309.76,340.59 L310.36,340.47 L310.97,340.36 L311.57,340.23 L312.17,340.11 L312.78,339.98 L313.38,339.84 L313.98,339.70 L314.59,339.56 L315.19,339.41 L315.79,339.26 L316.40,339.10 L317.00,338.94 L317.60,338.77 L318.21,338.60 L318.81,338.42 L319.41,338.23 L320.02,338.04 L320.62,337.84 L321.22,337.63 L321.83,337.42 L322.43,337.21 L323.03,336.98 L323.64,336.75 L324.24,336.51 L324.84,336.26 L325.45,336.01 L326.05,335.74 L326.65,335.47 L327.26,335.19 L327.86,334.90 L328.46,334.61 L329.07,334.30 L329.67,333.98 L330.27,333.66 L330.88,333.32 L331.48,332.98 L332.08,332.62 L332.69,332.25 L333.29,331.88 L333.89,331.49 L334.50,331.09 L335.10,330.67 L335.70,330.25 L336.31,329.81 L336.91,329.36 L337.51,328.90 L338.12,328.42 L338.72,327.93 L339.32,327.43 L339.93,326.92 L340.53,326.39 L341.13,325.84 L341.74,325.28 L342.34,324.71 L342.94,324.12 L343.55,323.51 L344.15,322.89 L344.75,322.26 L345.36,321.61 L345.96,320.94 L346.56,320.26 L347.17,319.56 L347.77,318.84 L348.37,318.11 L348.98,317.36 L349.58,316.59 L350.18,315.81 L350.79,315.01 L351.39,314.20 L351.99,313.36 L352.60,312.52 L353.20,311.65 L353.80,310.77 L354.41,309.87 L355.01,308.96 L355.61,308.03 L356.22,307.08 L356.82,306.12 L357.42,305.14 L358.03,304.15 L358.63,303.15 L359.23,302.13 L359.84,301.09 L360.44,300.05 L361.04,298.99 L361.65,297.92 L362.25,296.84 L362.85,295.75 L363.46,294.64 L364.06,293.53 L364.66,292.41 L365.27,291.28 L365.87,290.15 L366.47,289.01 L367.08,287.86 L367.68,286.71 L368.28,285.55 L368.89,284.39 L369.49,283.23 L370.09,282.07 L370.70,280.90 L371.30,279.74 L371.91,278.58 L372.51,277.42 L373.11,276.27 L373.72,275.11 L374.32,273.97 L374.92,272.83 L375.53,271.69 L376.13,270.57 L376.73,269.45 L377.34,268.34 L377.94,267.24 L378.54,266.16 L379.15,265.08 L379.75,264.02 L380.35,262.96 L380.96,261.93 L381.56,260.90 L382.16,259.89 L382.77,258.90 L383.37,257.92 L383.97,256.96 L384.58,256.01 L385.18,255.08 L385.78,254.17 L386.39,253.28 L386.99,252.40 L387.59,251.54 L388.20,250.70 L388.80,249.87 L389.40,249.07 L390.01,248.28 L390.61,247.51 L391.21,246.76 L391.82,246.03 L392.42,245.32 L393.02,244.62 L393.63,243.94 L394.23,243.28 L394.83,242.64 L395.44,242.02 L396.04,241.41 L396.64,240.82 L397.25,240.25 L397.85,239.69 L398.45,239.15 L399.06,238.63 L399.66,238.12 L400.26,237.63 L400.87,237.15 L401.47,236.69 L402.07,236.24 L402.68,235.81 L403.28,235.39 L403.88,234.98 L404.49,234.59 L405.09,234.21 L405.69,233.84 L406.30,233.49 L406.90,233.15 L407.50,232.82 L408.11,232.50 L408.71,232.19 L409.31,231.89 L409.92,231.61 L410.52,231.33 L411.12,231.07 L411.73,230.81 L412.33,230.56 L412.93,230.32 L413.54,230.09 L414.14,229.87 L414.74,229.66 L415.35,229.45 L415.95,229.25 L416.55,229.06 L417.16,228.88 L417.76,228.70 L418.36,228.53 L418.97,228.37 L419.57,228.21 L420.17,228.06 L420.78,227.92 L421.38,227.78 L421.98,227.64 L422.59,227.51 L423.19,227.39 L423.79,227.27 L424.40,227.15 L425.00,227.04 L425.60,226.94 L426.21,226.83 L426.81,226.74 L427.41,226.64 L428.02,226.55 L428.62,226.46 L429.22,226.38 L429.83,226.30 L430.43,226.22 L431.03,226.15 L431.64,226.08 L432.24,226.01 L432.84,225.94 L433.45,225.88 L434.05,225.82 L434.65,225.76 L435.26,225.70 L435.86,225.65 L436.46,225.60 L437.07,225.55 L437.67,225.50 L438.27,225.46 L438.88,225.41 L439.48,225.37 L440.08,225.33 L440.69,225.29 L441.29,225.26 L441.89,225.22 L442.50,225.19 L443.10,225.15" fill="none" stroke="#000" stroke-width="1.08"/><path d="M274.9,223.3 L274.9,343.8 L442.9,343.8" fill="none" stroke="#000" stroke-width="1.25" stroke-linejoin="miter" stroke-linecap="square"/><path d="M274.9,337.81 L272.29999999999995,337.81 M274.9,331.81 L272.29999999999995,331.81 M274.9,325.81 L272.29999999999995,325.81 M274.9,319.82 L272.29999999999995,319.82 M274.9,313.82 L272.29999999999995,313.82 M274.9,307.83 L272.29999999999995,307.83 M274.9,301.84 L272.29999999999995,301.84 M274.9,295.84 L272.29999999999995,295.84 M274.9,289.85 L272.29999999999995,289.85 M274.9,277.86 L272.29999999999995,277.86 M274.9,271.86 L272.29999999999995,271.86 M274.9,265.87 L272.29999999999995,265.87 M274.9,259.87 L272.29999999999995,259.87 M274.9,253.88 L272.29999999999995,253.88 M274.9,247.88 L272.29999999999995,247.88 M274.9,241.88 L272.29999999999995,241.88 M274.9,235.89 L272.29999999999995,235.89 M274.9,229.90 L272.29999999999995,229.90 M274.9,343.80 L270.0,343.80 M274.9,283.85 L270.0,283.85 M274.9,223.90 L270.0,223.90 M274.90,343.8 L274.90,349.1 M298.90,343.8 L298.90,349.1 M322.90,343.8 L322.90,349.1 M346.90,343.8 L346.90,349.1 M370.90,343.8 L370.90,349.1 M394.90,343.8 L394.90,349.1 M418.90,343.8 L418.90,349.1 M442.90,343.8 L442.90,349.1" stroke="#000" stroke-width="1.25" fill="none"/><text transform="translate(268.80,347.08) scale(1,1.09)" text-anchor="end" class="tk" style="font-size:8.4px">0</text><text transform="translate(268.80,287.13) scale(1,1.09)" text-anchor="end" class="tk" style="font-size:8.4px">50</text><text transform="translate(268.80,227.18) scale(1,1.09)" text-anchor="end" class="tk" style="font-size:8.4px">100</text><text transform="translate(274.90,358.5) scale(1,1.09)" text-anchor="middle" class="tk" style="font-size:8.4px">0</text><text transform="translate(298.90,358.5) scale(1,1.09)" text-anchor="middle" class="tk" style="font-size:8.4px">10</text><text transform="translate(322.90,358.5) scale(1,1.09)" text-anchor="middle" class="tk" style="font-size:8.4px">20</text><text transform="translate(346.90,358.5) scale(1,1.09)" text-anchor="middle" class="tk" style="font-size:8.4px">30</text><text transform="translate(370.90,358.5) scale(1,1.09)" text-anchor="middle" class="tk" style="font-size:8.4px">40</text><text transform="translate(394.90,358.5) scale(1,1.09)" text-anchor="middle" class="tk" style="font-size:8.4px">50</text><text transform="translate(418.90,358.5) scale(1,1.09)" text-anchor="middle" class="tk" style="font-size:8.4px">60</text><text transform="translate(442.90,358.5) scale(1,1.09)" text-anchor="middle" class="tk" style="font-size:8.4px">70</text><rect x="296.65" y="338.25" width="4.5" height="4.5"/><rect x="320.65" y="324.75" width="4.5" height="4.5"/><rect x="344.75" y="315.05" width="4.5" height="4.5"/><rect x="368.75" y="287.55" width="4.5" height="4.5"/><rect x="392.75" y="233.25" width="4.5" height="4.5"/><rect x="416.85" y="222.15" width="4.5" height="4.5"/><rect x="440.85" y="221.65" width="4.5" height="4.5"/><text x="359.5" y="207.9" text-anchor="middle" class="ti" style="font-size:10.95px">PNPs--MDA-MB-231--48h</text><text x="249.0" y="208.9" class="le">E</text><text x="359.2" y="373.9" text-anchor="middle" class="xl" style="font-size:9.3px">Concentration (ppm)</text><text transform="translate(237.7,283.6) rotate(-90)" text-anchor="middle" class="xl" style="font-size:9.8px">Inhibition (%)</text></g><g><line x1="510.8" y1="281.00" x2="679.5" y2="281.00" stroke="#ff3838" stroke-width="1.9"/><path d="M543.10,326.58 L543.67,326.51 L544.24,326.43 L544.81,326.36 L545.38,326.28 L545.95,326.20 L546.52,326.12 L547.09,326.03 L547.67,325.95 L548.24,325.86 L548.81,325.77 L549.38,325.68 L549.95,325.59 L550.52,325.50 L551.09,325.41 L551.66,325.31 L552.23,325.21 L552.80,325.11 L553.37,325.01 L553.94,324.90 L554.51,324.80 L555.08,324.69 L555.66,324.58 L556.23,324.47 L556.80,324.35 L557.37,324.24 L557.94,324.12 L558.51,324.00 L559.08,323.88 L559.65,323.75 L560.22,323.62 L560.79,323.50 L561.36,323.36 L561.93,323.23 L562.50,323.09 L563.07,322.95 L563.65,322.81 L564.22,322.66 L564.79,322.52 L565.36,322.37 L565.93,322.21 L566.50,322.06 L567.07,321.90 L567.64,321.74 L568.21,321.57 L568.78,321.40 L569.35,321.23 L569.92,321.06 L570.49,320.88 L571.06,320.70 L571.64,320.51 L572.21,320.33 L572.78,320.13 L573.35,319.94 L573.92,319.74 L574.49,319.54 L575.06,319.33 L575.63,319.12 L576.20,318.91 L576.77,318.69 L577.34,318.47 L577.91,318.24 L578.48,318.01 L579.05,317.78 L579.63,317.54 L580.20,317.30 L580.77,317.05 L581.34,316.79 L581.91,316.54 L582.48,316.28 L583.05,316.01 L583.62,315.74 L584.19,315.46 L584.76,315.18 L585.33,314.89 L585.90,314.60 L586.47,314.30 L587.04,314.00 L587.62,313.69 L588.19,313.37 L588.76,313.05 L589.33,312.72 L589.90,312.39 L590.47,312.05 L591.04,311.71 L591.61,311.35 L592.18,311.00 L592.75,310.63 L593.32,310.26 L593.89,309.88 L594.46,309.50 L595.03,309.10 L595.61,308.70 L596.18,308.30 L596.75,307.88 L597.32,307.46 L597.89,307.03 L598.46,306.59 L599.03,306.15 L599.60,305.69 L600.17,305.23 L600.74,304.76 L601.31,304.28 L601.88,303.79 L602.45,303.30 L603.02,302.79 L603.60,302.28 L604.17,301.75 L604.74,301.22 L605.31,300.68 L605.88,300.12 L606.45,299.56 L607.02,298.99 L607.59,298.41 L608.16,297.81 L608.73,297.21 L609.30,296.60 L609.87,295.97 L610.44,295.34 L611.01,294.70 L611.59,294.04 L612.16,293.37 L612.73,292.69 L613.30,292.00 L613.87,291.30 L614.44,290.59 L615.01,289.87 L615.58,289.13 L616.15,288.38 L616.72,287.62 L617.29,286.85 L617.86,286.07 L618.43,285.28 L619.00,284.47 L619.58,283.65 L620.15,282.82 L620.72,281.98 L621.29,281.13 L621.86,280.27 L622.43,279.39 L623.00,278.50 L623.57,277.60 L624.14,276.70 L624.71,275.78 L625.28,274.85 L625.85,273.91 L626.42,272.96 L626.99,272.00 L627.57,271.03 L628.14,270.05 L628.71,269.07 L629.28,268.08 L629.85,267.08 L630.42,266.07 L630.99,265.06 L631.56,264.04 L632.13,263.02 L632.70,262.00 L633.27,260.97 L633.84,259.94 L634.41,258.91 L634.98,257.88 L635.56,256.85 L636.13,255.82 L636.70,254.79 L637.27,253.77 L637.84,252.76 L638.41,251.74 L638.98,250.74 L639.55,249.74 L640.12,248.76 L640.69,247.78 L641.26,246.82 L641.83,245.86 L642.40,244.92 L642.97,244.00 L643.55,243.09 L644.12,242.19 L644.69,241.32 L645.26,240.46 L645.83,239.61 L646.40,238.79 L646.97,237.99 L647.54,237.21 L648.11,236.45 L648.68,235.71 L649.25,234.99 L649.82,234.29 L650.39,233.62 L650.96,232.97 L651.54,232.34 L652.11,231.73 L652.68,231.14 L653.25,230.58 L653.82,230.04 L654.39,229.52 L654.96,229.01 L655.53,228.54 L656.10,228.08 L656.67,227.64 L657.24,227.22 L657.81,226.81 L658.38,226.43 L658.95,226.07 L659.53,225.72 L660.10,225.39 L660.67,225.07 L661.24,224.77 L661.81,224.49 L662.38,224.22 L662.95,223.96 L663.52,223.72 L664.09,223.49 L664.66,223.27 L665.23,223.07 L665.80,222.87 L666.37,222.69 L666.94,222.51 L667.52,222.35 L668.09,222.19 L668.66,222.04 L669.23,221.91 L669.80,221.77 L670.37,221.65 L670.94,221.53 L671.51,221.42 L672.08,221.32 L672.65,221.22 L673.22,221.13 L673.79,221.04 L674.36,220.96 L674.93,220.89 L675.51,220.81 L676.08,220.75 L676.65,220.68 L677.22,220.62 L677.79,220.57 L678.36,220.51 L678.93,220.46 L679.50,220.42" fill="none" stroke="#222" stroke-width="0.75"/><path d="M510.8,220.2 L510.8,341.3 L679.5,341.3" fill="none" stroke="#000" stroke-width="1.25" stroke-linejoin="miter" stroke-linecap="square"/><path d="M510.8,335.27 L508.2,335.27 M510.8,329.24 L508.2,329.24 M510.8,323.21 L508.2,323.21 M510.8,317.18 L508.2,317.18 M510.8,311.15 L508.2,311.15 M510.8,305.12 L508.2,305.12 M510.8,299.09 L508.2,299.09 M510.8,293.06 L508.2,293.06 M510.8,287.03 L508.2,287.03 M510.8,274.97 L508.2,274.97 M510.8,268.94 L508.2,268.94 M510.8,262.91 L508.2,262.91 M510.8,256.88 L508.2,256.88 M510.8,250.85 L508.2,250.85 M510.8,244.82 L508.2,244.82 M510.8,238.79 L508.2,238.79 M510.8,232.76 L508.2,232.76 M510.8,226.73 L508.2,226.73 M510.8,341.30 L505.90000000000003,341.30 M510.8,281.00 L505.90000000000003,281.00 M510.8,220.70 L505.90000000000003,220.70 M526.71,341.3 L526.71,343.90000000000003 M536.02,341.3 L536.02,343.90000000000003 M542.62,341.3 L542.62,343.90000000000003 M547.74,341.3 L547.74,343.90000000000003 M551.93,341.3 L551.93,343.90000000000003 M555.46,341.3 L555.46,343.90000000000003 M558.53,341.3 L558.53,343.90000000000003 M561.23,341.3 L561.23,343.90000000000003 M579.56,341.3 L579.56,343.90000000000003 M588.87,341.3 L588.87,343.90000000000003 M595.47,341.3 L595.47,343.90000000000003 M600.59,341.3 L600.59,343.90000000000003 M604.78,341.3 L604.78,343.90000000000003 M608.31,341.3 L608.31,343.90000000000003 M611.38,341.3 L611.38,343.90000000000003 M614.08,341.3 L614.08,343.90000000000003 M632.41,341.3 L632.41,343.90000000000003 M641.72,341.3 L641.72,343.90000000000003 M648.32,341.3 L648.32,343.90000000000003 M653.44,341.3 L653.44,343.90000000000003 M657.63,341.3 L657.63,343.90000000000003 M661.16,341.3 L661.16,343.90000000000003 M664.23,341.3 L664.23,343.90000000000003 M666.93,341.3 L666.93,343.90000000000003 M510.80,341.3 L510.80,346.6 M563.65,341.3 L563.65,346.6 M616.50,341.3 L616.50,346.6 M669.35,341.3 L669.35,346.6" stroke="#000" stroke-width="1.25" fill="none"/><text transform="translate(504.20,344.58) scale(1,1.09)" text-anchor="end" class="tk" style="font-size:8.4px">0</text><text transform="translate(504.20,284.28) scale(1,1.09)" text-anchor="end" class="tk" style="font-size:8.4px">50</text><text transform="translate(504.20,223.98) scale(1,1.09)" text-anchor="end" class="tk" style="font-size:8.4px">100</text><text transform="translate(510.80,356.3) scale(1,1.09)" text-anchor="middle" class="tk" style="font-size:8.4px">1</text><text transform="translate(563.65,356.3) scale(1,1.09)" text-anchor="middle" class="tk" style="font-size:8.4px">3</text><text transform="translate(616.50,356.3) scale(1,1.09)" text-anchor="middle" class="tk" style="font-size:8.4px">10</text><text transform="translate(669.35,356.3) scale(1,1.09)" text-anchor="middle" class="tk" style="font-size:8.4px">32</text><path d="M543.1,330.85 L545.7,335.75 L540.5,335.75 Z"/><path d="M574.6,314.35 L577.2,319.25 L572.0,319.25 Z"/><path d="M584.6,309.85 L587.2,314.75 L582.0,314.75 Z"/><path d="M616.4,285.15 L619.0,290.04999999999995 L613.8,290.04999999999995 Z"/><path d="M647.9,233.45 L650.5,238.35 L645.3,238.35 Z"/><path d="M666.6,226.35 L669.2,231.25 L664.0,231.25 Z"/><path d="M679.5,217.95 L682.1,222.85 L676.9,222.85 Z"/><text x="594.2" y="205.0" text-anchor="middle" class="ti" style="font-size:10.75px">Crude extract--MDA-MB-231--48h</text><text x="462.6" y="207.0" class="le">F</text><text x="595.6" y="372.0" text-anchor="middle" class="xl" style="font-size:9.3px">Concentration (ppm)</text><text transform="translate(474.8,280.9) rotate(-90)" text-anchor="middle" class="xl" style="font-size:9.8px">Inhibition (%)</text></g><g><line x1="46.8" y1="480.30" x2="215.4" y2="480.30" stroke="#ff3838" stroke-width="1.9"/><path d="M56.90,525.36 L57.56,525.27 L58.22,525.18 L58.88,525.08 L59.55,524.99 L60.21,524.89 L60.87,524.79 L61.53,524.68 L62.19,524.57 L62.85,524.46 L63.52,524.35 L64.18,524.23 L64.84,524.11 L65.50,523.99 L66.16,523.87 L66.82,523.74 L67.48,523.60 L68.15,523.47 L68.81,523.33 L69.47,523.18 L70.13,523.04 L70.79,522.89 L71.45,522.73 L72.11,522.57 L72.78,522.41 L73.44,522.24 L74.10,522.07 L74.76,521.89 L75.42,521.71 L76.08,521.52 L76.75,521.33 L77.41,521.14 L78.07,520.94 L78.73,520.73 L79.39,520.52 L80.05,520.30 L80.71,520.08 L81.38,519.85 L82.04,519.61 L82.70,519.37 L83.36,519.12 L84.02,518.87 L84.68,518.61 L85.34,518.34 L86.01,518.06 L86.67,517.78 L87.33,517.49 L87.99,517.19 L88.65,516.89 L89.31,516.57 L89.98,516.25 L90.64,515.92 L91.30,515.58 L91.96,515.23 L92.62,514.88 L93.28,514.51 L93.94,514.13 L94.61,513.75 L95.27,513.35 L95.93,512.94 L96.59,512.53 L97.25,512.10 L97.91,511.66 L98.57,511.21 L99.24,510.75 L99.90,510.27 L100.56,509.79 L101.22,509.29 L101.88,508.78 L102.54,508.25 L103.21,507.71 L103.87,507.16 L104.53,506.59 L105.19,506.01 L105.85,505.42 L106.51,504.81 L107.17,504.18 L107.84,503.54 L108.50,502.88 L109.16,502.21 L109.82,501.52 L110.48,500.81 L111.14,500.08 L111.81,499.34 L112.47,498.58 L113.13,497.80 L113.79,497.00 L114.45,496.19 L115.11,495.35 L115.77,494.50 L116.44,493.62 L117.10,492.73 L117.76,491.82 L118.42,490.88 L119.08,489.93 L119.74,488.96 L120.40,487.96 L121.07,486.95 L121.73,485.91 L122.39,484.86 L123.05,483.78 L123.71,482.69 L124.37,481.57 L125.04,480.44 L125.70,479.28 L126.36,478.11 L127.02,476.92 L127.68,475.72 L128.34,474.49 L129.00,473.26 L129.67,472.00 L130.33,470.74 L130.99,469.46 L131.65,468.17 L132.31,466.87 L132.97,465.56 L133.63,464.24 L134.30,462.92 L134.96,461.60 L135.62,460.28 L136.28,458.95 L136.94,457.63 L137.60,456.31 L138.27,455.00 L138.93,453.70 L139.59,452.40 L140.25,451.13 L140.91,449.86 L141.57,448.61 L142.23,447.39 L142.90,446.18 L143.56,445.00 L144.22,443.84 L144.88,442.70 L145.54,441.60 L146.20,440.52 L146.86,439.48 L147.53,438.47 L148.19,437.49 L148.85,436.54 L149.51,435.62 L150.17,434.74 L150.83,433.90 L151.50,433.09 L152.16,432.31 L152.82,431.57 L153.48,430.86 L154.14,430.19 L154.80,429.54 L155.46,428.93 L156.13,428.35 L156.79,427.80 L157.45,427.28 L158.11,426.79 L158.77,426.33 L159.43,425.89 L160.09,425.47 L160.76,425.09 L161.42,424.72 L162.08,424.38 L162.74,424.05 L163.40,423.75 L164.06,423.47 L164.73,423.20 L165.39,422.95 L166.05,422.72 L166.71,422.50 L167.37,422.30 L168.03,422.11 L168.69,421.93 L169.36,421.77 L170.02,421.61 L170.68,421.47 L171.34,421.34 L172.00,421.21 L172.66,421.09 L173.33,420.99 L173.99,420.89 L174.65,420.79 L175.31,420.70 L175.97,420.62 L176.63,420.55 L177.29,420.48 L177.96,420.41 L178.62,420.35 L179.28,420.30 L179.94,420.24 L180.60,420.19 L181.26,420.15 L181.92,420.11 L182.59,420.07 L183.25,420.03 L183.91,420.00 L184.57,419.97 L185.23,419.94 L185.89,419.91 L186.56,419.89 L187.22,419.86 L187.88,419.84 L188.54,419.82 L189.20,419.80 L189.86,419.79 L190.52,419.77 L191.19,419.76 L191.85,419.74 L192.51,419.73 L193.17,419.72 L193.83,419.71 L194.49,419.70 L195.15,419.69 L195.82,419.68 L196.48,419.67 L197.14,419.66 L197.80,419.66 L198.46,419.65 L199.12,419.64 L199.79,419.64 L200.45,419.63 L201.11,419.63 L201.77,419.62 L202.43,419.62 L203.09,419.62 L203.75,419.61 L204.42,419.61 L205.08,419.61 L205.74,419.60 L206.40,419.60 L207.06,419.60 L207.72,419.60 L208.38,419.59 L209.05,419.59 L209.71,419.59 L210.37,419.59 L211.03,419.59 L211.69,419.59 L212.35,419.58 L213.02,419.58 L213.68,419.58 L214.34,419.58 L215.00,419.58" fill="none" stroke="#000" stroke-width="1.08"/><path d="M46.8,419.5 L46.8,540.4 L215.4,540.4" fill="none" stroke="#000" stroke-width="1.25" stroke-linejoin="miter" stroke-linecap="square"/><path d="M46.8,534.38 L44.199999999999996,534.38 M46.8,528.36 L44.199999999999996,528.36 M46.8,522.34 L44.199999999999996,522.34 M46.8,516.32 L44.199999999999996,516.32 M46.8,510.30 L44.199999999999996,510.30 M46.8,504.28 L44.199999999999996,504.28 M46.8,498.26 L44.199999999999996,498.26 M46.8,492.24 L44.199999999999996,492.24 M46.8,486.22 L44.199999999999996,486.22 M46.8,474.18 L44.199999999999996,474.18 M46.8,468.16 L44.199999999999996,468.16 M46.8,462.14 L44.199999999999996,462.14 M46.8,456.12 L44.199999999999996,456.12 M46.8,450.10 L44.199999999999996,450.10 M46.8,444.08 L44.199999999999996,444.08 M46.8,438.06 L44.199999999999996,438.06 M46.8,432.04 L44.199999999999996,432.04 M46.8,426.02 L44.199999999999996,426.02 M46.8,540.40 L41.9,540.40 M46.8,480.20 L41.9,480.20 M46.8,420.00 L41.9,420.00 M52.04,540.4 L52.04,543.0 M61.43,540.4 L61.43,543.0 M68.09,540.4 L68.09,543.0 M73.26,540.4 L73.26,543.0 M77.48,540.4 L77.48,543.0 M81.04,540.4 L81.04,543.0 M84.13,540.4 L84.13,543.0 M86.86,540.4 L86.86,543.0 M105.34,540.4 L105.34,543.0 M114.73,540.4 L114.73,543.0 M121.39,540.4 L121.39,543.0 M126.56,540.4 L126.56,543.0 M130.78,540.4 L130.78,543.0 M134.34,540.4 L134.34,543.0 M137.43,540.4 L137.43,543.0 M140.16,540.4 L140.16,543.0 M158.64,540.4 L158.64,543.0 M168.03,540.4 L168.03,543.0 M174.69,540.4 L174.69,543.0 M179.86,540.4 L179.86,543.0 M184.08,540.4 L184.08,543.0 M187.64,540.4 L187.64,543.0 M190.73,540.4 L190.73,543.0 M193.46,540.4 L193.46,543.0 M211.94,540.4 L211.94,543.0 M89.30,540.4 L89.30,545.6999999999999 M142.60,540.4 L142.60,545.6999999999999 M195.90,540.4 L195.90,545.6999999999999" stroke="#000" stroke-width="1.25" fill="none"/><text transform="translate(40.10,543.68) scale(1,1.09)" text-anchor="end" class="tk" style="font-size:8.4px">0</text><text transform="translate(40.10,483.48) scale(1,1.09)" text-anchor="end" class="tk" style="font-size:8.4px">50</text><text transform="translate(40.10,423.28) scale(1,1.09)" text-anchor="end" class="tk" style="font-size:8.4px">100</text><text transform="translate(89.30,555.3000000000001) scale(1,1.09)" text-anchor="middle" class="tk" style="font-size:8.4px">1</text><text transform="translate(142.60,555.3000000000001) scale(1,1.09)" text-anchor="middle" class="tk" style="font-size:8.4px">3.1622776601684</text><text transform="translate(195.90,555.3000000000001) scale(1,1.09)" text-anchor="middle" class="tk" style="font-size:8.4px">10</text><circle cx="56.9" cy="525.9" r="2.45"/><circle cx="107.9" cy="503.4" r="2.45"/><circle cx="140" cy="451.5" r="2.45"/><circle cx="182.5" cy="428.8" r="2.45"/><circle cx="215.0" cy="420.2" r="2.45"/><text x="129.7" y="404.3" text-anchor="middle" class="ti" style="font-size:10.8px">Doxorubicin--MDA-MB-468--48h</text><text x="6.0" y="404.3" class="le">G</text><text x="131.2" y="570.8" text-anchor="middle" class="xl" style="font-size:9.3px">Concentration (ppm)</text><text transform="translate(10.1,479.3) rotate(-90)" text-anchor="middle" class="xl" style="font-size:10.05px">Inhibition (%)</text></g><g><line x1="274.5" y1="479.80" x2="442.5" y2="479.80" stroke="#ff3838" stroke-width="1.9"/><path d="M298.40,539.44 L299.01,539.42 L299.61,539.39 L300.22,539.36 L300.82,539.33 L301.43,539.29 L302.03,539.26 L302.64,539.22 L303.24,539.18 L303.85,539.14 L304.45,539.10 L305.06,539.05 L305.66,539.00 L306.27,538.95 L306.87,538.90 L307.48,538.84 L308.08,538.78 L308.69,538.71 L309.29,538.65 L309.90,538.58 L310.50,538.50 L311.11,538.42 L311.71,538.34 L312.32,538.25 L312.92,538.16 L313.53,538.06 L314.13,537.96 L314.74,537.85 L315.34,537.73 L315.95,537.61 L316.55,537.48 L317.16,537.35 L317.76,537.21 L318.37,537.05 L318.97,536.90 L319.58,536.73 L320.18,536.55 L320.79,536.37 L321.39,536.17 L322.00,535.96 L322.60,535.75 L323.21,535.52 L323.81,535.27 L324.42,535.02 L325.02,534.75 L325.63,534.46 L326.23,534.17 L326.84,533.85 L327.44,533.52 L328.05,533.17 L328.65,532.80 L329.26,532.41 L329.86,532.01 L330.47,531.58 L331.07,531.13 L331.68,530.65 L332.28,530.15 L332.89,529.63 L333.49,529.07 L334.10,528.49 L334.70,527.89 L335.31,527.25 L335.91,526.58 L336.52,525.87 L337.12,525.13 L337.73,524.36 L338.33,523.55 L338.94,522.70 L339.54,521.81 L340.15,520.88 L340.75,519.91 L341.36,518.90 L341.96,517.84 L342.57,516.74 L343.17,515.59 L343.78,514.40 L344.38,513.16 L344.99,511.87 L345.59,510.53 L346.20,509.14 L346.80,507.71 L347.41,506.22 L348.01,504.69 L348.62,503.11 L349.22,501.49 L349.83,499.82 L350.43,498.10 L351.04,496.35 L351.64,494.55 L352.25,492.72 L352.85,490.85 L353.46,488.95 L354.06,487.02 L354.67,485.07 L355.27,483.10 L355.88,481.12 L356.48,479.12 L357.09,477.11 L357.69,475.10 L358.30,473.09 L358.90,471.09 L359.51,469.11 L360.11,467.13 L360.72,465.18 L361.32,463.26 L361.93,461.36 L362.53,459.50 L363.14,457.67 L363.74,455.89 L364.35,454.14 L364.95,452.45 L365.56,450.80 L366.16,449.21 L366.77,447.67 L367.37,446.18 L367.98,444.75 L368.58,443.37 L369.19,442.05 L369.79,440.79 L370.40,439.58 L371.00,438.43 L371.61,437.33 L372.21,436.29 L372.82,435.29 L373.42,434.35 L374.03,433.46 L374.63,432.62 L375.24,431.82 L375.84,431.07 L376.45,430.36 L377.05,429.70 L377.66,429.07 L378.26,428.48 L378.87,427.92 L379.47,427.40 L380.08,426.92 L380.68,426.46 L381.29,426.03 L381.89,425.63 L382.50,425.26 L383.10,424.91 L383.71,424.58 L384.31,424.27 L384.92,423.99 L385.52,423.72 L386.13,423.47 L386.73,423.24 L387.34,423.03 L387.94,422.83 L388.55,422.64 L389.15,422.46 L389.76,422.30 L390.36,422.15 L390.97,422.01 L391.57,421.88 L392.18,421.76 L392.78,421.65 L393.39,421.54 L393.99,421.44 L394.60,421.35 L395.20,421.27 L395.81,421.19 L396.41,421.12 L397.02,421.05 L397.62,420.99 L398.23,420.93 L398.83,420.87 L399.44,420.82 L400.04,420.78 L400.65,420.73 L401.25,420.69 L401.86,420.65 L402.46,420.62 L403.07,420.59 L403.67,420.56 L404.28,420.53 L404.88,420.50 L405.49,420.48 L406.09,420.46 L406.70,420.44 L407.30,420.42 L407.91,420.40 L408.51,420.38 L409.12,420.37 L409.72,420.35 L410.33,420.34 L410.93,420.33 L411.54,420.32 L412.14,420.31 L412.75,420.30 L413.35,420.29 L413.96,420.28 L414.56,420.27 L415.17,420.26 L415.77,420.26 L416.38,420.25 L416.98,420.25 L417.59,420.24 L418.19,420.24 L418.80,420.23 L419.40,420.23 L420.01,420.22 L420.61,420.22 L421.22,420.22 L421.82,420.21 L422.43,420.21 L423.03,420.21 L423.64,420.20 L424.24,420.20 L424.85,420.20 L425.45,420.20 L426.06,420.20 L426.66,420.19 L427.27,420.19 L427.87,420.19 L428.48,420.19 L429.08,420.19 L429.69,420.19 L430.29,420.19 L430.90,420.18 L431.50,420.18 L432.11,420.18 L432.71,420.18 L433.32,420.18 L433.92,420.18 L434.53,420.18 L435.13,420.18 L435.74,420.18 L436.34,420.18 L436.95,420.18 L437.55,420.18 L438.16,420.18 L438.76,420.18 L439.37,420.18 L439.97,420.18 L440.58,420.18 L441.18,420.17 L441.79,420.17 L442.39,420.17 L443.00,420.17" fill="none" stroke="#000" stroke-width="1.08"/><path d="M274.5,419.4 L274.5,539.9 L442.5,539.9" fill="none" stroke="#000" stroke-width="1.25" stroke-linejoin="miter" stroke-linecap="square"/><path d="M274.5,533.90 L271.9,533.90 M274.5,527.91 L271.9,527.91 M274.5,521.91 L271.9,521.91 M274.5,515.92 L271.9,515.92 M274.5,509.92 L271.9,509.92 M274.5,503.93 L271.9,503.93 M274.5,497.94 L271.9,497.94 M274.5,491.94 L271.9,491.94 M274.5,485.94 L271.9,485.94 M274.5,473.95 L271.9,473.95 M274.5,467.96 L271.9,467.96 M274.5,461.96 L271.9,461.96 M274.5,455.97 L271.9,455.97 M274.5,449.98 L271.9,449.98 M274.5,443.98 L271.9,443.98 M274.5,437.99 L271.9,437.99 M274.5,431.99 L271.9,431.99 M274.5,426.00 L271.9,426.00 M274.5,539.90 L269.6,539.90 M274.5,479.95 L269.6,479.95 M274.5,420.00 L269.6,420.00 M279.30,539.9 L279.30,542.5 M284.10,539.9 L284.10,542.5 M288.90,539.9 L288.90,542.5 M293.70,539.9 L293.70,542.5 M298.50,539.9 L298.50,542.5 M303.30,539.9 L303.30,542.5 M308.10,539.9 L308.10,542.5 M312.90,539.9 L312.90,542.5 M317.70,539.9 L317.70,542.5 M327.30,539.9 L327.30,542.5 M332.10,539.9 L332.10,542.5 M336.90,539.9 L336.90,542.5 M341.70,539.9 L341.70,542.5 M346.50,539.9 L346.50,542.5 M351.30,539.9 L351.30,542.5 M356.10,539.9 L356.10,542.5 M360.90,539.9 L360.90,542.5 M365.70,539.9 L365.70,542.5 M375.30,539.9 L375.30,542.5 M380.10,539.9 L380.10,542.5 M384.90,539.9 L384.90,542.5 M389.70,539.9 L389.70,542.5 M394.50,539.9 L394.50,542.5 M399.30,539.9 L399.30,542.5 M404.10,539.9 L404.10,542.5 M408.90,539.9 L408.90,542.5 M413.70,539.9 L413.70,542.5 M423.30,539.9 L423.30,542.5 M428.10,539.9 L428.10,542.5 M432.90,539.9 L432.90,542.5 M437.70,539.9 L437.70,542.5 M442.50,539.9 L442.50,542.5 M274.50,539.9 L274.50,545.1999999999999 M322.50,539.9 L322.50,545.1999999999999 M370.50,539.9 L370.50,545.1999999999999 M418.50,539.9 L418.50,545.1999999999999" stroke="#000" stroke-width="1.25" fill="none"/><text transform="translate(268.40,543.18) scale(1,1.09)" text-anchor="end" class="tk" style="font-size:8.4px">0</text><text transform="translate(268.40,483.23) scale(1,1.09)" text-anchor="end" class="tk" style="font-size:8.4px">50</text><text transform="translate(268.40,423.28) scale(1,1.09)" text-anchor="end" class="tk" style="font-size:8.4px">100</text><text transform="translate(274.50,554.7) scale(1,1.09)" text-anchor="middle" class="tk" style="font-size:8.4px">0</text><text transform="translate(322.50,554.7) scale(1,1.09)" text-anchor="middle" class="tk" style="font-size:8.4px">20</text><text transform="translate(370.50,554.7) scale(1,1.09)" text-anchor="middle" class="tk" style="font-size:8.4px">40</text><text transform="translate(418.50,554.7) scale(1,1.09)" text-anchor="middle" class="tk" style="font-size:8.4px">60</text><rect x="296.15" y="536.85" width="4.5" height="4.5"/><rect x="344.45" y="506.85" width="4.5" height="4.5"/><rect x="368.25" y="436.65" width="4.5" height="4.5"/><rect x="392.55" y="429.65" width="4.5" height="4.5"/><rect x="440.75" y="417.75" width="4.5" height="4.5"/><text x="358.8" y="404.2" text-anchor="middle" class="ti" style="font-size:10.92px">PNPs--MDA-MB-468--48h</text><text x="248.9" y="403.4" class="le">H</text><text x="358.7" y="569.9" text-anchor="middle" class="xl" style="font-size:9.3px">Concentration (ppm)</text><text transform="translate(237.3,479.5) rotate(-90)" text-anchor="middle" class="xl" style="font-size:9.8px">Inhibition (%)</text></g><g><line x1="511.0" y1="478.80" x2="679.5" y2="478.80" stroke="#ff3838" stroke-width="1.9"/><path d="M543.10,532.05 L543.67,532.04 L544.24,532.03 L544.81,532.02 L545.39,532.01 L545.96,532.00 L546.53,531.99 L547.10,531.98 L547.67,531.96 L548.24,531.95 L548.82,531.94 L549.39,531.92 L549.96,531.91 L550.53,531.89 L551.10,531.88 L551.67,531.86 L552.24,531.84 L552.82,531.82 L553.39,531.80 L553.96,531.78 L554.53,531.76 L555.10,531.74 L555.67,531.71 L556.25,531.69 L556.82,531.66 L557.39,531.63 L557.96,531.60 L558.53,531.57 L559.10,531.54 L559.67,531.50 L560.25,531.47 L560.82,531.43 L561.39,531.39 L561.96,531.34 L562.53,531.30 L563.10,531.25 L563.68,531.20 L564.25,531.15 L564.82,531.09 L565.39,531.04 L565.96,530.97 L566.53,530.91 L567.11,530.84 L567.68,530.77 L568.25,530.70 L568.82,530.62 L569.39,530.54 L569.96,530.45 L570.53,530.36 L571.11,530.26 L571.68,530.16 L572.25,530.05 L572.82,529.94 L573.39,529.82 L573.96,529.70 L574.54,529.57 L575.11,529.43 L575.68,529.29 L576.25,529.14 L576.82,528.98 L577.39,528.81 L577.96,528.63 L578.54,528.45 L579.11,528.25 L579.68,528.05 L580.25,527.83 L580.82,527.61 L581.39,527.37 L581.97,527.12 L582.54,526.85 L583.11,526.57 L583.68,526.28 L584.25,525.98 L584.82,525.65 L585.39,525.31 L585.97,524.96 L586.54,524.58 L587.11,524.19 L587.68,523.78 L588.25,523.34 L588.82,522.89 L589.40,522.41 L589.97,521.91 L590.54,521.38 L591.11,520.83 L591.68,520.24 L592.25,519.63 L592.82,519.00 L593.40,518.32 L593.97,517.62 L594.54,516.88 L595.11,516.11 L595.68,515.30 L596.25,514.46 L596.83,513.57 L597.40,512.64 L597.97,511.68 L598.54,510.67 L599.11,509.61 L599.68,508.51 L600.25,507.36 L600.83,506.16 L601.40,504.92 L601.97,503.63 L602.54,502.28 L603.11,500.89 L603.68,499.44 L604.26,497.95 L604.83,496.40 L605.40,494.81 L605.97,493.16 L606.54,491.47 L607.11,489.73 L607.68,487.95 L608.26,486.13 L608.83,484.27 L609.40,482.38 L609.97,480.46 L610.54,478.50 L611.11,476.53 L611.69,474.54 L612.26,472.54 L612.83,470.53 L613.40,468.53 L613.97,466.53 L614.54,464.54 L615.12,462.57 L615.69,460.62 L616.26,458.70 L616.83,456.82 L617.40,454.98 L617.97,453.19 L618.54,451.44 L619.12,449.75 L619.69,448.11 L620.26,446.54 L620.83,445.03 L621.40,443.58 L621.97,442.20 L622.55,440.89 L623.12,439.64 L623.69,438.45 L624.26,437.33 L624.83,436.28 L625.40,435.29 L625.97,434.35 L626.55,433.48 L627.12,432.66 L627.69,431.90 L628.26,431.19 L628.83,430.53 L629.40,429.92 L629.98,429.35 L630.55,428.82 L631.12,428.33 L631.69,427.87 L632.26,427.46 L632.83,427.07 L633.40,426.71 L633.98,426.39 L634.55,426.08 L635.12,425.80 L635.69,425.55 L636.26,425.31 L636.83,425.10 L637.41,424.90 L637.98,424.72 L638.55,424.55 L639.12,424.40 L639.69,424.26 L640.26,424.13 L640.83,424.01 L641.41,423.90 L641.98,423.80 L642.55,423.71 L643.12,423.63 L643.69,423.56 L644.26,423.49 L644.84,423.42 L645.41,423.36 L645.98,423.31 L646.55,423.26 L647.12,423.22 L647.69,423.18 L648.26,423.14 L648.84,423.11 L649.41,423.08 L649.98,423.05 L650.55,423.02 L651.12,423.00 L651.69,422.98 L652.27,422.96 L652.84,422.94 L653.41,422.92 L653.98,422.91 L654.55,422.89 L655.12,422.88 L655.69,422.87 L656.27,422.86 L656.84,422.85 L657.41,422.84 L657.98,422.83 L658.55,422.83 L659.12,422.82 L659.70,422.81 L660.27,422.81 L660.84,422.80 L661.41,422.80 L661.98,422.79 L662.55,422.79 L663.13,422.79 L663.70,422.78 L664.27,422.78 L664.84,422.78 L665.41,422.77 L665.98,422.77 L666.55,422.77 L667.13,422.77 L667.70,422.77 L668.27,422.77 L668.84,422.76 L669.41,422.76 L669.98,422.76 L670.56,422.76 L671.13,422.76 L671.70,422.76 L672.27,422.76 L672.84,422.76 L673.41,422.76 L673.98,422.76 L674.56,422.75 L675.13,422.75 L675.70,422.75 L676.27,422.75 L676.84,422.75 L677.41,422.75 L677.99,422.75 L678.56,422.75 L679.13,422.75 L679.70,422.75" fill="none" stroke="#000" stroke-width="1.08"/><path d="M511.0,417.4 L511.0,534.5 L679.5,534.5" fill="none" stroke="#000" stroke-width="1.25" stroke-linejoin="miter" stroke-linecap="square"/><path d="M511.0,528.93 L508.4,528.93 M511.0,523.37 L508.4,523.37 M511.0,517.80 L508.4,517.80 M511.0,512.24 L508.4,512.24 M511.0,506.68 L508.4,506.68 M511.0,501.11 L508.4,501.11 M511.0,495.55 L508.4,495.55 M511.0,489.98 L508.4,489.98 M511.0,484.41 L508.4,484.41 M511.0,473.28 L508.4,473.28 M511.0,467.72 L508.4,467.72 M511.0,462.15 L508.4,462.15 M511.0,456.59 L508.4,456.59 M511.0,451.02 L508.4,451.02 M511.0,445.46 L508.4,445.46 M511.0,439.89 L508.4,439.89 M511.0,434.33 L508.4,434.33 M511.0,428.76 L508.4,428.76 M511.0,417.63 L508.4,417.63 M511.0,534.50 L506.1,534.50 M511.0,478.85 L506.1,478.85 M511.0,423.20 L506.1,423.20 M526.71,534.5 L526.71,537.1 M536.02,534.5 L536.02,537.1 M542.62,534.5 L542.62,537.1 M547.74,534.5 L547.74,537.1 M551.93,534.5 L551.93,537.1 M555.46,534.5 L555.46,537.1 M558.53,534.5 L558.53,537.1 M561.23,534.5 L561.23,537.1 M579.56,534.5 L579.56,537.1 M588.87,534.5 L588.87,537.1 M595.47,534.5 L595.47,537.1 M600.59,534.5 L600.59,537.1 M604.78,534.5 L604.78,537.1 M608.31,534.5 L608.31,537.1 M611.38,534.5 L611.38,537.1 M614.08,534.5 L614.08,537.1 M632.41,534.5 L632.41,537.1 M641.72,534.5 L641.72,537.1 M648.32,534.5 L648.32,537.1 M653.44,534.5 L653.44,537.1 M657.63,534.5 L657.63,537.1 M661.16,534.5 L661.16,537.1 M664.23,534.5 L664.23,537.1 M666.93,534.5 L666.93,537.1 M510.80,534.5 L510.80,539.8 M563.65,534.5 L563.65,539.8 M616.50,534.5 L616.50,539.8 M669.35,534.5 L669.35,539.8" stroke="#000" stroke-width="1.25" fill="none"/><text transform="translate(504.40,537.78) scale(1,1.09)" text-anchor="end" class="tk" style="font-size:8.4px">0</text><text transform="translate(504.40,482.13) scale(1,1.09)" text-anchor="end" class="tk" style="font-size:8.4px">50</text><text transform="translate(504.40,426.48) scale(1,1.09)" text-anchor="end" class="tk" style="font-size:8.4px">100</text><text transform="translate(510.80,549.1) scale(1,1.09)" text-anchor="middle" class="tk" style="font-size:8.4px">1</text><text transform="translate(563.65,549.1) scale(1,1.09)" text-anchor="middle" class="tk" style="font-size:8.4px">3</text><text transform="translate(616.50,549.1) scale(1,1.09)" text-anchor="middle" class="tk" style="font-size:8.4px">10</text><text transform="translate(669.35,549.1) scale(1,1.09)" text-anchor="middle" class="tk" style="font-size:8.4px">32</text><path d="M543.1,530.25 L545.7,535.15 L540.5,535.15 Z"/><path d="M574.6,528.15 L577.2,533.05 L572.0,533.05 Z"/><path d="M584.9,520.75 L587.5,525.65 L582.3,525.65 Z"/><path d="M616.4,454.55 L619.0,459.45 L613.8,459.45 Z"/><path d="M648.2,437.25 L650.8000000000001,442.15 L645.6,442.15 Z"/><path d="M666.8,429.35 L669.4,434.25 L664.1999999999999,434.25 Z"/><path d="M679.7,420.35 L682.3000000000001,425.25 L677.1,425.25 Z"/><text x="595.6" y="402.9" text-anchor="middle" class="ti" style="font-size:10.92px">Crude extracto--MDA-MB-468--48h</text><text x="464.3" y="406.0" class="le">I</text><text x="595.6" y="567.6" text-anchor="middle" class="xl" style="font-size:9.3px">Concentration (ppm)</text><text transform="translate(474.4,475.9) rotate(-90)" text-anchor="middle" class="xl" style="font-size:9.8px">Inhibition (%)</text></g><g><line x1="43.0" y1="673.90" x2="203.9" y2="673.90" stroke="#ff3838" stroke-width="1.9"/><path d="M49.30,718.57 L49.94,718.57 L50.59,718.56 L51.23,718.56 L51.87,718.55 L52.52,718.55 L53.16,718.54 L53.80,718.53 L54.44,718.53 L55.09,718.52 L55.73,718.52 L56.37,718.51 L57.02,718.50 L57.66,718.50 L58.30,718.49 L58.95,718.48 L59.59,718.47 L60.23,718.47 L60.88,718.46 L61.52,718.45 L62.16,718.44 L62.81,718.43 L63.45,718.42 L64.09,718.41 L64.73,718.40 L65.38,718.39 L66.02,718.38 L66.66,718.37 L67.31,718.35 L67.95,718.34 L68.59,718.33 L69.24,718.31 L69.88,718.30 L70.52,718.29 L71.17,718.27 L71.81,718.26 L72.45,718.24 L73.09,718.22 L73.74,718.21 L74.38,718.19 L75.02,718.17 L75.67,718.15 L76.31,718.13 L76.95,718.11 L77.60,718.09 L78.24,718.07 L78.88,718.04 L79.53,718.02 L80.17,717.99 L80.81,717.97 L81.45,717.94 L82.10,717.91 L82.74,717.89 L83.38,717.86 L84.03,717.83 L84.67,717.79 L85.31,717.76 L85.96,717.73 L86.60,717.69 L87.24,717.66 L87.89,717.62 L88.53,717.58 L89.17,717.54 L89.82,717.49 L90.46,717.45 L91.10,717.41 L91.74,717.36 L92.39,717.31 L93.03,717.26 L93.67,717.21 L94.32,717.15 L94.96,717.10 L95.60,717.04 L96.25,716.98 L96.89,716.91 L97.53,716.85 L98.18,716.78 L98.82,716.71 L99.46,716.64 L100.10,716.57 L100.75,716.49 L101.39,716.41 L102.03,716.32 L102.68,716.24 L103.32,716.15 L103.96,716.05 L104.61,715.96 L105.25,715.86 L105.89,715.75 L106.54,715.65 L107.18,715.54 L107.82,715.42 L108.46,715.30 L109.11,715.18 L109.75,715.05 L110.39,714.92 L111.04,714.78 L111.68,714.64 L112.32,714.49 L112.97,714.33 L113.61,714.18 L114.25,714.01 L114.90,713.84 L115.54,713.66 L116.18,713.48 L116.83,713.29 L117.47,713.09 L118.11,712.89 L118.75,712.67 L119.40,712.46 L120.04,712.23 L120.68,711.99 L121.33,711.75 L121.97,711.49 L122.61,711.23 L123.26,710.96 L123.90,710.68 L124.54,710.38 L125.19,710.08 L125.83,709.77 L126.47,709.44 L127.11,709.10 L127.76,708.75 L128.40,708.39 L129.04,708.02 L129.69,707.63 L130.33,707.22 L130.97,706.81 L131.62,706.37 L132.26,705.92 L132.90,705.46 L133.55,704.98 L134.19,704.48 L134.83,703.96 L135.47,703.42 L136.12,702.87 L136.76,702.29 L137.40,701.69 L138.05,701.07 L138.69,700.43 L139.33,699.77 L139.98,699.08 L140.62,698.37 L141.26,697.63 L141.91,696.87 L142.55,696.08 L143.19,695.26 L143.84,694.41 L144.48,693.53 L145.12,692.63 L145.76,691.69 L146.41,690.71 L147.05,689.71 L147.69,688.67 L148.34,687.59 L148.98,686.48 L149.62,685.34 L150.27,684.15 L150.91,682.93 L151.55,681.67 L152.20,680.37 L152.84,679.03 L153.48,677.65 L154.12,676.23 L154.77,674.78 L155.41,673.28 L156.05,671.75 L156.70,670.18 L157.34,668.57 L157.98,666.93 L158.63,665.26 L159.27,663.56 L159.91,661.83 L160.56,660.08 L161.20,658.31 L161.84,656.53 L162.48,654.74 L163.13,652.94 L163.77,651.15 L164.41,649.37 L165.06,647.60 L165.70,645.85 L166.34,644.13 L166.99,642.44 L167.63,640.80 L168.27,639.21 L168.92,637.66 L169.56,636.18 L170.20,634.76 L170.85,633.41 L171.49,632.12 L172.13,630.91 L172.77,629.77 L173.42,628.70 L174.06,627.71 L174.70,626.78 L175.35,625.93 L175.99,625.14 L176.63,624.41 L177.28,623.75 L177.92,623.14 L178.56,622.59 L179.21,622.09 L179.85,621.64 L180.49,621.23 L181.13,620.86 L181.78,620.52 L182.42,620.22 L183.06,619.95 L183.71,619.71 L184.35,619.49 L184.99,619.30 L185.64,619.12 L186.28,618.97 L186.92,618.83 L187.57,618.71 L188.21,618.60 L188.85,618.50 L189.49,618.41 L190.14,618.33 L190.78,618.26 L191.42,618.20 L192.07,618.15 L192.71,618.10 L193.35,618.06 L194.00,618.02 L194.64,617.98 L195.28,617.95 L195.93,617.93 L196.57,617.90 L197.21,617.88 L197.86,617.86 L198.50,617.84 L199.14,617.83 L199.78,617.82 L200.43,617.80 L201.07,617.79 L201.71,617.79 L202.36,617.78 L203.00,617.77" fill="none" stroke="#000" stroke-width="1.08"/><path d="M43.0,617.9 L43.0,730.0 L203.9,730.0" fill="none" stroke="#000" stroke-width="1.25" stroke-linejoin="miter" stroke-linecap="square"/><path d="M43.0,724.42 L40.4,724.42 M43.0,718.84 L40.4,718.84 M43.0,713.26 L40.4,713.26 M43.0,707.68 L40.4,707.68 M43.0,702.10 L40.4,702.10 M43.0,696.52 L40.4,696.52 M43.0,690.94 L40.4,690.94 M43.0,685.36 L40.4,685.36 M43.0,679.78 L40.4,679.78 M43.0,668.62 L40.4,668.62 M43.0,663.04 L40.4,663.04 M43.0,657.46 L40.4,657.46 M43.0,651.88 L40.4,651.88 M43.0,646.30 L40.4,646.30 M43.0,640.72 L40.4,640.72 M43.0,635.14 L40.4,635.14 M43.0,629.56 L40.4,629.56 M43.0,623.98 L40.4,623.98 M43.0,730.00 L38.1,730.00 M43.0,674.20 L38.1,674.20 M43.0,618.40 L38.1,618.40 M55.90,730.0 L55.90,735.3 M87.00,730.0 L87.00,735.3 M118.10,730.0 L118.10,735.3 M149.20,730.0 L149.20,735.3 M180.30,730.0 L180.30,735.3" stroke="#000" stroke-width="1.25" fill="none"/><text transform="translate(37.50,733.16) scale(1,1.09)" text-anchor="end" class="tk" style="font-size:8.1px">0</text><text transform="translate(37.50,677.36) scale(1,1.09)" text-anchor="end" class="tk" style="font-size:8.1px">50</text><text transform="translate(37.50,621.56) scale(1,1.09)" text-anchor="end" class="tk" style="font-size:8.1px">100</text><text transform="translate(55.90,743.7) scale(1,1.09)" text-anchor="middle" class="tk" style="font-size:8.1px">0.03</text><text transform="translate(87.00,743.7) scale(1,1.09)" text-anchor="middle" class="tk" style="font-size:8.1px">0.1</text><text transform="translate(118.10,743.7) scale(1,1.09)" text-anchor="middle" class="tk" style="font-size:8.1px">0.3</text><text transform="translate(149.20,743.7) scale(1,1.09)" text-anchor="middle" class="tk" style="font-size:8.1px">1</text><text transform="translate(180.30,743.7) scale(1,1.09)" text-anchor="middle" class="tk" style="font-size:8.1px">3.1622776601684</text><circle cx="49.3" cy="726" r="2.45"/><circle cx="68.1" cy="720" r="2.45"/><circle cx="130.4" cy="706.2" r="2.45"/><circle cx="159.8" cy="660.7" r="2.45"/><circle cx="178.6" cy="632.4" r="2.45"/><circle cx="203" cy="618.3" r="2.45"/><text x="123.2" y="603.7" text-anchor="middle" class="ti" style="font-size:10.46px">Doxorubicin–MCF7–48h</text><text x="7.6" y="605.6" class="le">J</text><text x="123.8" y="773.0" text-anchor="middle" class="xl" style="font-size:8.9px">Concentration (ppm)</text><text transform="translate(8.8,673.2) rotate(-90)" text-anchor="middle" class="xl" style="font-size:9.45px">Inhibition (%)</text></g><g><line x1="271.4" y1="681.30" x2="431.7" y2="681.30" stroke="#ff3838" stroke-width="1.9"/><path d="M294.60,741.55 L295.17,741.55 L295.75,741.54 L296.32,741.54 L296.89,741.53 L297.47,741.52 L298.04,741.52 L298.61,741.51 L299.19,741.51 L299.76,741.50 L300.33,741.49 L300.91,741.48 L301.48,741.48 L302.05,741.47 L302.63,741.46 L303.20,741.45 L303.77,741.44 L304.34,741.43 L304.92,741.42 L305.49,741.41 L306.06,741.39 L306.64,741.38 L307.21,741.37 L307.78,741.35 L308.36,741.34 L308.93,741.32 L309.50,741.31 L310.08,741.29 L310.65,741.27 L311.22,741.25 L311.80,741.23 L312.37,741.21 L312.94,741.19 L313.52,741.17 L314.09,741.14 L314.66,741.12 L315.24,741.09 L315.81,741.06 L316.38,741.03 L316.96,741.00 L317.53,740.97 L318.10,740.93 L318.68,740.90 L319.25,740.86 L319.82,740.82 L320.39,740.78 L320.97,740.73 L321.54,740.69 L322.11,740.64 L322.69,740.59 L323.26,740.53 L323.83,740.48 L324.41,740.42 L324.98,740.36 L325.55,740.29 L326.13,740.22 L326.70,740.15 L327.27,740.08 L327.85,740.00 L328.42,739.91 L328.99,739.82 L329.57,739.73 L330.14,739.64 L330.71,739.53 L331.29,739.43 L331.86,739.32 L332.43,739.20 L333.01,739.07 L333.58,738.94 L334.15,738.81 L334.73,738.67 L335.30,738.52 L335.87,738.36 L336.45,738.19 L337.02,738.02 L337.59,737.84 L338.16,737.64 L338.74,737.44 L339.31,737.23 L339.88,737.01 L340.46,736.78 L341.03,736.53 L341.60,736.28 L342.18,736.01 L342.75,735.73 L343.32,735.43 L343.90,735.12 L344.47,734.79 L345.04,734.45 L345.62,734.10 L346.19,733.72 L346.76,733.33 L347.34,732.92 L347.91,732.48 L348.48,732.03 L349.06,731.56 L349.63,731.06 L350.20,730.55 L350.78,730.00 L351.35,729.44 L351.92,728.84 L352.50,728.22 L353.07,727.57 L353.64,726.90 L354.22,726.19 L354.79,725.45 L355.36,724.68 L355.93,723.88 L356.51,723.04 L357.08,722.17 L357.65,721.26 L358.23,720.31 L358.80,719.33 L359.37,718.31 L359.95,717.25 L360.52,716.15 L361.09,715.00 L361.67,713.82 L362.24,712.60 L362.81,711.33 L363.39,710.03 L363.96,708.68 L364.53,707.29 L365.11,705.86 L365.68,704.39 L366.25,702.88 L366.83,701.33 L367.40,699.75 L367.97,698.13 L368.55,696.47 L369.12,694.78 L369.69,693.06 L370.27,691.32 L370.84,689.55 L371.41,687.76 L371.98,685.94 L372.56,684.12 L373.13,682.27 L373.70,680.42 L374.28,678.57 L374.85,676.71 L375.42,674.86 L376.00,673.01 L376.57,671.17 L377.14,669.34 L377.72,667.53 L378.29,665.74 L378.86,663.98 L379.44,662.24 L380.01,660.54 L380.58,658.87 L381.16,657.23 L381.73,655.63 L382.30,654.08 L382.88,652.56 L383.45,651.09 L384.02,649.67 L384.60,648.30 L385.17,646.97 L385.74,645.69 L386.32,644.45 L386.89,643.27 L387.46,642.14 L388.04,641.05 L388.61,640.01 L389.18,639.02 L389.75,638.07 L390.33,637.17 L390.90,636.31 L391.47,635.50 L392.05,634.72 L392.62,633.99 L393.19,633.30 L393.77,632.64 L394.34,632.02 L394.91,631.43 L395.49,630.88 L396.06,630.36 L396.63,629.86 L397.21,629.40 L397.78,628.96 L398.35,628.55 L398.93,628.17 L399.50,627.80 L400.07,627.46 L400.65,627.14 L401.22,626.84 L401.79,626.56 L402.37,626.30 L402.94,626.05 L403.51,625.82 L404.09,625.61 L404.66,625.40 L405.23,625.21 L405.81,625.04 L406.38,624.87 L406.95,624.71 L407.52,624.57 L408.10,624.43 L408.67,624.31 L409.24,624.19 L409.82,624.08 L410.39,623.97 L410.96,623.88 L411.54,623.79 L412.11,623.70 L412.68,623.62 L413.26,623.55 L413.83,623.48 L414.40,623.42 L414.98,623.36 L415.55,623.30 L416.12,623.25 L416.70,623.20 L417.27,623.16 L417.84,623.11 L418.42,623.07 L418.99,623.04 L419.56,623.00 L420.14,622.97 L420.71,622.94 L421.28,622.91 L421.86,622.89 L422.43,622.86 L423.00,622.84 L423.57,622.82 L424.15,622.80 L424.72,622.78 L425.29,622.76 L425.87,622.75 L426.44,622.73 L427.01,622.72 L427.59,622.71 L428.16,622.70 L428.73,622.68 L429.31,622.67 L429.88,622.66 L430.45,622.66 L431.03,622.65 L431.60,622.64" fill="none" stroke="#000" stroke-width="1.08"/><path d="M271.4,621.0 L271.4,741.5 L431.7,741.5" fill="none" stroke="#000" stroke-width="1.25" stroke-linejoin="miter" stroke-linecap="square"/><path d="M271.4,735.50 L268.79999999999995,735.50 M271.4,729.50 L268.79999999999995,729.50 M271.4,723.50 L268.79999999999995,723.50 M271.4,717.50 L268.79999999999995,717.50 M271.4,711.50 L268.79999999999995,711.50 M271.4,705.50 L268.79999999999995,705.50 M271.4,699.50 L268.79999999999995,699.50 M271.4,693.50 L268.79999999999995,693.50 M271.4,687.50 L268.79999999999995,687.50 M271.4,675.50 L268.79999999999995,675.50 M271.4,669.50 L268.79999999999995,669.50 M271.4,663.50 L268.79999999999995,663.50 M271.4,657.50 L268.79999999999995,657.50 M271.4,651.50 L268.79999999999995,651.50 M271.4,645.50 L268.79999999999995,645.50 M271.4,639.50 L268.79999999999995,639.50 M271.4,633.50 L268.79999999999995,633.50 M271.4,627.50 L268.79999999999995,627.50 M271.4,741.50 L266.5,741.50 M271.4,681.50 L266.5,681.50 M271.4,621.50 L266.5,621.50 M275.98,741.5 L275.98,744.1 M280.56,741.5 L280.56,744.1 M285.14,741.5 L285.14,744.1 M289.72,741.5 L289.72,744.1 M294.30,741.5 L294.30,744.1 M298.88,741.5 L298.88,744.1 M303.46,741.5 L303.46,744.1 M308.04,741.5 L308.04,744.1 M312.62,741.5 L312.62,744.1 M321.78,741.5 L321.78,744.1 M326.36,741.5 L326.36,744.1 M330.94,741.5 L330.94,744.1 M335.52,741.5 L335.52,744.1 M340.10,741.5 L340.10,744.1 M344.68,741.5 L344.68,744.1 M349.26,741.5 L349.26,744.1 M353.84,741.5 L353.84,744.1 M358.42,741.5 L358.42,744.1 M367.58,741.5 L367.58,744.1 M372.16,741.5 L372.16,744.1 M376.74,741.5 L376.74,744.1 M381.32,741.5 L381.32,744.1 M385.90,741.5 L385.90,744.1 M390.48,741.5 L390.48,744.1 M395.06,741.5 L395.06,744.1 M399.64,741.5 L399.64,744.1 M404.22,741.5 L404.22,744.1 M413.38,741.5 L413.38,744.1 M417.96,741.5 L417.96,744.1 M422.54,741.5 L422.54,744.1 M427.12,741.5 L427.12,744.1 M431.70,741.5 L431.70,744.1 M271.40,741.5 L271.40,746.8 M317.20,741.5 L317.20,746.8 M363.00,741.5 L363.00,746.8 M408.80,741.5 L408.80,746.8" stroke="#000" stroke-width="1.25" fill="none"/><text transform="translate(265.30,744.78) scale(1,1.09)" text-anchor="end" class="tk" style="font-size:8.4px">0</text><text transform="translate(265.30,684.78) scale(1,1.09)" text-anchor="end" class="tk" style="font-size:8.4px">50</text><text transform="translate(265.30,624.78) scale(1,1.09)" text-anchor="end" class="tk" style="font-size:8.4px">100</text><text transform="translate(271.40,757.1) scale(1,1.09)" text-anchor="middle" class="tk" style="font-size:8.4px">0</text><text transform="translate(317.20,757.1) scale(1,1.09)" text-anchor="middle" class="tk" style="font-size:8.4px">20</text><text transform="translate(363.00,757.1) scale(1,1.09)" text-anchor="middle" class="tk" style="font-size:8.4px">40</text><text transform="translate(408.80,757.1) scale(1,1.09)" text-anchor="middle" class="tk" style="font-size:8.4px">60</text><rect x="292.35" y="739.25" width="4.5" height="4.5"/><rect x="315.15" y="722.65" width="4.5" height="4.5"/><rect x="337.85" y="720.85" width="4.5" height="4.5"/><rect x="360.65" y="712.95" width="4.5" height="4.5"/><rect x="383.55" y="641.65" width="4.5" height="4.5"/><rect x="429.35" y="619.25" width="4.5" height="4.5"/><text x="351.5" y="604.9" text-anchor="middle" class="ti" style="font-size:10.3px">PNPs--MCF7--48h</text><text x="248.7" y="602.5" class="le">K</text><text x="351.8" y="772.4" text-anchor="middle" class="xl" style="font-size:8.9px">Concentration (ppm)</text><text transform="translate(236.6,681.6) rotate(-90)" text-anchor="middle" class="xl" style="font-size:9.8px">Inhibition (%)</text></g><g><line x1="508.3" y1="679.00" x2="676.78" y2="679.00" stroke="#ff3838" stroke-width="1.9"/><path d="M516.80,733.22 L517.47,733.03 L518.14,732.84 L518.81,732.63 L519.48,732.43 L520.15,732.21 L520.82,731.99 L521.49,731.75 L522.16,731.52 L522.83,731.27 L523.49,731.01 L524.16,730.75 L524.83,730.47 L525.50,730.19 L526.17,729.90 L526.84,729.59 L527.51,729.28 L528.18,728.96 L528.85,728.62 L529.52,728.28 L530.19,727.92 L530.86,727.55 L531.53,727.17 L532.20,726.78 L532.87,726.37 L533.54,725.95 L534.21,725.52 L534.88,725.07 L535.54,724.61 L536.21,724.14 L536.88,723.65 L537.55,723.14 L538.22,722.62 L538.89,722.09 L539.56,721.54 L540.23,720.97 L540.90,720.38 L541.57,719.78 L542.24,719.16 L542.91,718.53 L543.58,717.88 L544.25,717.20 L544.92,716.51 L545.59,715.81 L546.26,715.08 L546.93,714.33 L547.59,713.57 L548.26,712.79 L548.93,711.98 L549.60,711.16 L550.27,710.32 L550.94,709.46 L551.61,708.58 L552.28,707.68 L552.95,706.76 L553.62,705.82 L554.29,704.87 L554.96,703.89 L555.63,702.90 L556.30,701.88 L556.97,700.85 L557.64,699.81 L558.31,698.74 L558.98,697.66 L559.65,696.56 L560.31,695.45 L560.98,694.32 L561.65,693.18 L562.32,692.02 L562.99,690.86 L563.66,689.68 L564.33,688.48 L565.00,687.28 L565.67,686.07 L566.34,684.85 L567.01,683.62 L567.68,682.39 L568.35,681.15 L569.02,679.91 L569.69,678.66 L570.36,677.41 L571.03,676.16 L571.70,674.91 L572.36,673.67 L573.03,672.42 L573.70,671.18 L574.37,669.94 L575.04,668.71 L575.71,667.48 L576.38,666.27 L577.05,665.06 L577.72,663.86 L578.39,662.67 L579.06,661.50 L579.73,660.34 L580.40,659.19 L581.07,658.05 L581.74,656.94 L582.41,655.83 L583.08,654.75 L583.75,653.68 L584.42,652.63 L585.08,651.60 L585.75,650.58 L586.42,649.59 L587.09,648.62 L587.76,647.67 L588.43,646.73 L589.10,645.82 L589.77,644.93 L590.44,644.06 L591.11,643.21 L591.78,642.39 L592.45,641.58 L593.12,640.79 L593.79,640.03 L594.46,639.29 L595.13,638.57 L595.80,637.86 L596.47,637.18 L597.13,636.52 L597.80,635.88 L598.47,635.26 L599.14,634.66 L599.81,634.08 L600.48,633.51 L601.15,632.97 L601.82,632.44 L602.49,631.93 L603.16,631.44 L603.83,630.96 L604.50,630.50 L605.17,630.06 L605.84,629.63 L606.51,629.22 L607.18,628.82 L607.85,628.44 L608.52,628.07 L609.18,627.71 L609.85,627.37 L610.52,627.04 L611.19,626.73 L611.86,626.42 L612.53,626.13 L613.20,625.85 L613.87,625.58 L614.54,625.32 L615.21,625.07 L615.88,624.82 L616.55,624.59 L617.22,624.37 L617.89,624.16 L618.56,623.96 L619.23,623.76 L619.90,623.57 L620.57,623.39 L621.24,623.22 L621.90,623.05 L622.57,622.89 L623.24,622.74 L623.91,622.59 L624.58,622.45 L625.25,622.32 L625.92,622.19 L626.59,622.06 L627.26,621.95 L627.93,621.83 L628.60,621.72 L629.27,621.62 L629.94,621.52 L630.61,621.42 L631.28,621.33 L631.95,621.25 L632.62,621.16 L633.29,621.08 L633.95,621.00 L634.62,620.93 L635.29,620.86 L635.96,620.79 L636.63,620.73 L637.30,620.67 L637.97,620.61 L638.64,620.55 L639.31,620.50 L639.98,620.44 L640.65,620.39 L641.32,620.35 L641.99,620.30 L642.66,620.26 L643.33,620.22 L644.00,620.18 L644.67,620.14 L645.34,620.10 L646.01,620.07 L646.67,620.03 L647.34,620.00 L648.01,619.97 L648.68,619.94 L649.35,619.91 L650.02,619.89 L650.69,619.86 L651.36,619.84 L652.03,619.81 L652.70,619.79 L653.37,619.77 L654.04,619.75 L654.71,619.73 L655.38,619.71 L656.05,619.69 L656.72,619.68 L657.39,619.66 L658.06,619.64 L658.72,619.63 L659.39,619.61 L660.06,619.60 L660.73,619.59 L661.40,619.57 L662.07,619.56 L662.74,619.55 L663.41,619.54 L664.08,619.53 L664.75,619.52 L665.42,619.51 L666.09,619.50 L666.76,619.49 L667.43,619.48 L668.10,619.48 L668.77,619.47 L669.44,619.46 L670.11,619.45 L670.77,619.45 L671.44,619.44 L672.11,619.43 L672.78,619.43 L673.45,619.42 L674.12,619.42 L674.79,619.41 L675.46,619.41 L676.13,619.40 L676.80,619.40" fill="none" stroke="#000" stroke-width="1.08"/><path d="M508.3,619.1 L508.3,738.6 L676.78,738.6" fill="none" stroke="#000" stroke-width="1.25" stroke-linejoin="miter" stroke-linecap="square"/><path d="M508.3,732.65 L505.7,732.65 M508.3,726.70 L505.7,726.70 M508.3,720.75 L505.7,720.75 M508.3,714.80 L505.7,714.80 M508.3,708.85 L505.7,708.85 M508.3,702.90 L505.7,702.90 M508.3,696.95 L505.7,696.95 M508.3,691.00 L505.7,691.00 M508.3,685.05 L505.7,685.05 M508.3,673.15 L505.7,673.15 M508.3,667.20 L505.7,667.20 M508.3,661.25 L505.7,661.25 M508.3,655.30 L505.7,655.30 M508.3,649.35 L505.7,649.35 M508.3,643.40 L505.7,643.40 M508.3,637.45 L505.7,637.45 M508.3,631.50 L505.7,631.50 M508.3,625.55 L505.7,625.55 M508.3,738.60 L503.40000000000003,738.60 M508.3,679.10 L503.40000000000003,679.10 M508.3,619.60 L503.40000000000003,619.60 M508.30,738.6 L508.30,743.9 M550.42,738.6 L550.42,743.9 M592.54,738.6 L592.54,743.9 M634.66,738.6 L634.66,743.9 M676.78,738.6 L676.78,743.9" stroke="#000" stroke-width="1.25" fill="none"/><text transform="translate(502.20,741.88) scale(1,1.09)" text-anchor="end" class="tk" style="font-size:8.4px">0</text><text transform="translate(502.20,682.38) scale(1,1.09)" text-anchor="end" class="tk" style="font-size:8.4px">50</text><text transform="translate(502.20,622.88) scale(1,1.09)" text-anchor="end" class="tk" style="font-size:8.4px">100</text><text transform="translate(508.30,753.5) scale(1,1.09)" text-anchor="middle" class="tk" style="font-size:8.4px">0</text><text transform="translate(550.42,753.5) scale(1,1.09)" text-anchor="middle" class="tk" style="font-size:8.4px">10</text><text transform="translate(592.54,753.5) scale(1,1.09)" text-anchor="middle" class="tk" style="font-size:8.4px">20</text><text transform="translate(634.66,753.5) scale(1,1.09)" text-anchor="middle" class="tk" style="font-size:8.4px">30</text><text transform="translate(676.78,753.5) scale(1,1.09)" text-anchor="middle" class="tk" style="font-size:8.4px">40</text><path d="M516.8,731.55 L519.4,736.4499999999999 L514.1999999999999,736.4499999999999 Z"/><path d="M525,727.35 L527.6,732.25 L522.4,732.25 Z"/><path d="M529.3,718.35 L531.9,723.25 L526.6999999999999,723.25 Z"/><path d="M550.6,711.65 L553.2,716.55 L548.0,716.55 Z"/><path d="M592.5,637.85 L595.1,642.75 L589.9,642.75 Z"/><path d="M676.8,617.05 L679.4,621.9499999999999 L674.1999999999999,621.9499999999999 Z"/><text x="592.2" y="604.5" text-anchor="middle" class="ti" style="font-size:10.9px">Crude extract--MCF7--48h</text><text x="466.0" y="601.8" class="le">L</text><text x="592.4" y="771.9" text-anchor="middle" class="xl" style="font-size:9.3px">Concentration (ppm)</text><text transform="translate(471.5,679.0) rotate(-90)" text-anchor="middle" class="xl" style="font-size:9.8px">Inhibition (%)</text></g>
</svg></body></html>
